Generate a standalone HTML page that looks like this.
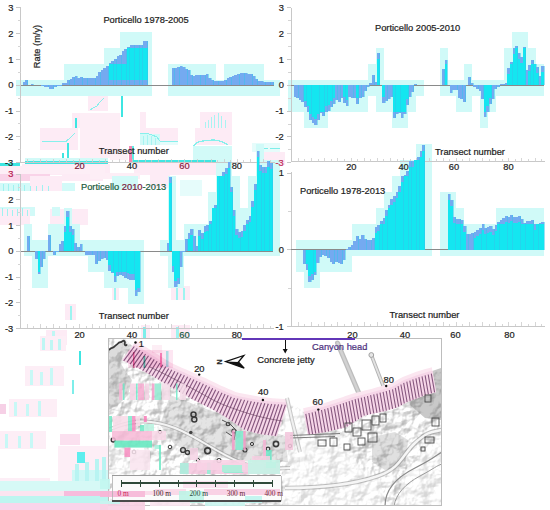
<!DOCTYPE html>
<html><head><meta charset="utf-8"><style>
html,body{margin:0;padding:0;background:#fff;}
body{width:550px;height:510px;overflow:hidden;position:relative;}
svg{position:absolute;left:0;top:0;}
.t{font-family:"Liberation Sans",sans-serif;font-size:9.3px;fill:#1e1e1e;stroke:#1e1e1e;stroke-width:0.22px;}
.s{font-family:"Liberation Serif",serif;font-size:7.4px;fill:#3a2020;}
</style></head><body>
<svg width="550" height="510" viewBox="0 0 550 510" shape-rendering="crispEdges">
<rect x="88" y="95" width="20" height="16" fill="#fdebf5"/>
<rect x="121" y="95" width="2" height="22" fill="#3ee6e2"/>
<rect x="72" y="113" width="8" height="15" fill="#fdebf5"/>
<rect x="40" y="128" width="38" height="22" fill="#fdebf5"/>
<rect x="75" y="118" width="1.5" height="10" fill="#3ee6e2"/>
<rect x="67" y="143" width="1.5" height="19" fill="#3ee6e2"/>
<rect x="62" y="153" width="1.5" height="9" fill="#3ee6e2"/>
<rect x="25" y="158" width="83" height="3" fill="#d2faf8"/>
<rect x="25" y="161" width="83" height="2.6" fill="#3ee6e2"/>
<rect x="0" y="163" width="20" height="3" fill="#3ee6e2"/>
<rect x="22" y="164" width="88" height="11" fill="#fdebf5"/>
<rect x="110" y="150" width="18" height="10" fill="#fdeef6"/>
<rect x="80" y="113" width="40" height="45" fill="#fdeef6"/>
<rect x="140" y="112" width="6" height="16" fill="#fdebf5"/>
<rect x="200" y="112" width="32" height="16" fill="#fdebf5"/>
<rect x="140" y="128" width="38" height="17" fill="#fdebf5"/>
<rect x="195" y="128" width="37" height="17" fill="#fdebf5"/>
<rect x="140" y="134" width="20" height="11" fill="#d2faf8"/>
<rect x="160" y="141" width="18" height="4" fill="#e6fcfb"/>
<rect x="193" y="146" width="39" height="15" fill="#d2faf8"/>
<rect x="132" y="160" width="100" height="3" fill="#3ee6e2"/>
<rect x="134" y="163" width="96" height="12" fill="#fdebf5"/>
<rect x="128.5" y="146" width="3" height="16" fill="#f28ab4"/>
<rect x="132" y="146" width="2" height="14" fill="#5ef0e8"/>
<rect x="252" y="143" width="28" height="9" fill="#e6fcfb"/>
<rect x="262" y="147.5" width="6" height="1.5" fill="#7eeeea"/>
<rect x="270" y="147.5" width="10" height="1.5" fill="#7eeeea"/>
<rect x="264" y="152" width="21" height="13" fill="#fdebf5"/>
<rect x="0" y="166" width="105" height="8" fill="#fdeef6"/>
<rect x="0" y="174" width="50" height="7" fill="#f9d3e8"/>
<rect x="62" y="174" width="41" height="7" fill="#fdebf5"/>
<rect x="0" y="183" width="60" height="8" fill="#d2faf8"/>
<rect x="60" y="183" width="15" height="8" fill="#d2faf8"/>
<rect x="30" y="176" width="32" height="15" fill="#fdebf5"/>
<rect x="0" y="207" width="35" height="9" fill="#d2faf8"/>
<rect x="0" y="209" width="30" height="16" fill="#fdebf5"/>
<rect x="50" y="209" width="38" height="16" fill="#fdebf5"/>
<rect x="52" y="207" width="8" height="9" fill="#d2faf8"/>
<rect x="90" y="173" width="50" height="6" fill="#fdeef6"/>
<rect x="112" y="176" width="26" height="14" fill="#d2faf8"/>
<rect x="150" y="174" width="20" height="14" fill="#fdebf5"/>
<rect x="180" y="180" width="22" height="16" fill="#e6fcfb"/>
<rect x="65" y="304" width="11" height="16" fill="#fdebf5"/>
<rect x="70" y="306" width="2" height="14" fill="#9ef4f0"/>
<rect x="112" y="286" width="7" height="14" fill="#fdebf5"/>
<rect x="114" y="288" width="2" height="12" fill="#9ef4f0"/>
<rect x="171" y="286" width="19" height="14" fill="#fdebf5"/>
<rect x="176" y="288" width="2" height="12" fill="#9ef4f0"/>
<rect x="183" y="288" width="2" height="12" fill="#9ef4f0"/>
<rect x="46" y="330" width="21" height="15" fill="#fdebf5"/>
<rect x="52" y="331" width="3" height="12" fill="#c0f6f4"/>
<rect x="140.5" y="325" width="9.5" height="20" fill="#fdebf5"/>
<rect x="143" y="327" width="3" height="16" fill="#7eeeea"/>
<rect x="171" y="325" width="19" height="20" fill="#fdebf5"/>
<rect x="176" y="327" width="3" height="16" fill="#9ef4f0"/>
<rect x="40" y="336" width="26" height="15" fill="#fdeef6"/>
<rect x="42" y="338" width="3" height="12" fill="#bff6f4"/>
<rect x="50" y="340" width="3" height="10" fill="#bff6f4"/>
<rect x="58" y="339" width="3" height="11" fill="#bff6f4"/>
<rect x="79" y="351" width="1.6" height="14" fill="#3ee6e2"/>
<rect x="25" y="366" width="39" height="20" fill="#fdeef6"/>
<rect x="30" y="370" width="3" height="15" fill="#c8f8f6"/>
<rect x="40" y="372" width="3" height="13" fill="#c8f8f6"/>
<rect x="50" y="368" width="3" height="17" fill="#c8f8f6"/>
<rect x="72" y="380" width="1.5" height="14" fill="#7eeeea"/>
<rect x="9" y="399" width="48" height="18" fill="#fdeef6"/>
<rect x="14" y="402" width="3" height="14" fill="#c8f8f6"/>
<rect x="26" y="404" width="3" height="12" fill="#c8f8f6"/>
<rect x="38" y="401" width="3" height="15" fill="#c8f8f6"/>
<rect x="0" y="404" width="6" height="10" fill="#f6d0e6"/>
<rect x="0" y="431" width="46" height="18" fill="#fdeef6"/>
<rect x="5" y="434" width="3" height="14" fill="#c8f8f6"/>
<rect x="18" y="436" width="3" height="12" fill="#c8f8f6"/>
<rect x="30" y="433" width="3" height="15" fill="#c8f8f6"/>
<rect x="58" y="446" width="52" height="46" fill="#fdeef6"/>
<rect x="60" y="434" width="20" height="11" fill="#fbe0ef"/>
<rect x="76.7" y="452" width="8" height="11" fill="#5eeeee"/>
<rect x="72" y="470" width="36" height="21" fill="#d0f8f6"/>
<rect x="75" y="464" width="4" height="27" fill="#b8f4f2"/>
<rect x="85" y="462" width="4" height="29" fill="#b8f4f2"/>
<rect x="95" y="459" width="4" height="32" fill="#b8f4f2"/>
<rect x="102" y="457" width="4" height="34" fill="#b8f4f2"/>
<rect x="0" y="478" width="50" height="3" fill="#fdeef6"/>
<rect x="0" y="481" width="108" height="10" fill="#d6f9f6"/>
<rect x="0" y="491" width="64" height="5" fill="#fbe4f0"/>
<rect x="64" y="491" width="44" height="5" fill="#f7bcdc"/>
<rect x="0" y="496" width="108" height="7" fill="#bdf5f0"/>
<rect x="0" y="503" width="108" height="7" fill="#f9d4ea"/>
<path d="M90,110 L93,108 L97,106 L100,102 L104,98" stroke="#86f0ec" stroke-width="1.0" fill="none"/>
<path d="M42,141.5 L66,141.5 L70,138 L73,135 L75,133" stroke="#86f0ec" stroke-width="1.0" fill="none"/>
<path d="M140,134 L146,133 L152,135 L157,137 L160,141 L178,141.5" stroke="#86f0ec" stroke-width="1.0" fill="none"/>
<path d="M193,146 L198,142 L206,140.5 L214,140 L222,141.5 L228,145" stroke="#86f0ec" stroke-width="1.3" fill="none"/>
<path d="M205,128 L205,122 M208,128 L208,120 M211,128 L211,117 M214,128 L214,115 M218,128 L218,113 M221,128 L221,116 M225,128 L225,120" stroke="#a8f4f2" stroke-width="1.0" fill="none"/>
<path d="M143,145 L143,136 M147,145 L147,135 M151,145 L151,136 M155,145 L155,138" stroke="#a8f4f2" stroke-width="1.0" fill="none"/>
<path d="M3,191 L3,184 M8,191 L8,184 M13,191 L13,185 M18,191 L18,184 M24,191 L24,185 M30,191 L30,186 M36,191 L36,186 M42,191 L42,185 M48,191 L48,186" stroke="#a0f2f0" stroke-width="1.0" fill="none"/>
<path d="M2,216 L2,208 M7,216 L7,209 M12,216 L12,210 M17,216 L17,209 M22,216 L22,208 M27,216 L27,210" stroke="#a0f2f0" stroke-width="1.0" fill="none"/>
<rect x="16" y="80" width="8" height="16" fill="#d0faf8"/>
<rect x="24" y="80" width="8" height="16" fill="#d0faf8"/>
<rect x="32" y="80" width="8" height="16" fill="#d0faf8"/>
<rect x="40" y="80" width="8" height="16" fill="#d0faf8"/>
<rect x="48" y="80" width="8" height="16" fill="#d0faf8"/>
<rect x="56" y="80" width="8" height="16" fill="#d0faf8"/>
<rect x="64" y="64" width="8" height="16" fill="#d0faf8"/>
<rect x="64" y="80" width="8" height="16" fill="#d0faf8"/>
<rect x="72" y="64" width="8" height="16" fill="#d0faf8"/>
<rect x="72" y="80" width="8" height="16" fill="#d0faf8"/>
<rect x="80" y="64" width="8" height="16" fill="#d0faf8"/>
<rect x="80" y="80" width="8" height="16" fill="#d0faf8"/>
<rect x="88" y="64" width="8" height="16" fill="#d0faf8"/>
<rect x="88" y="80" width="8" height="16" fill="#d0faf8"/>
<rect x="96" y="64" width="8" height="16" fill="#d0faf8"/>
<rect x="96" y="80" width="8" height="16" fill="#d0faf8"/>
<rect x="104" y="48" width="8" height="16" fill="#d0faf8"/>
<rect x="104" y="64" width="8" height="16" fill="#d0faf8"/>
<rect x="104" y="80" width="8" height="16" fill="#d0faf8"/>
<rect x="112" y="48" width="8" height="16" fill="#d0faf8"/>
<rect x="112" y="64" width="8" height="16" fill="#d0faf8"/>
<rect x="112" y="80" width="8" height="16" fill="#d0faf8"/>
<rect x="120" y="32" width="8" height="16" fill="#d0faf8"/>
<rect x="120" y="48" width="8" height="16" fill="#d0faf8"/>
<rect x="120" y="64" width="8" height="16" fill="#d0faf8"/>
<rect x="120" y="80" width="8" height="16" fill="#d0faf8"/>
<rect x="128" y="32" width="8" height="16" fill="#d0faf8"/>
<rect x="128" y="48" width="8" height="16" fill="#d0faf8"/>
<rect x="128" y="64" width="8" height="16" fill="#d0faf8"/>
<rect x="128" y="80" width="8" height="16" fill="#d0faf8"/>
<rect x="136" y="32" width="8" height="16" fill="#d0faf8"/>
<rect x="136" y="48" width="8" height="16" fill="#d0faf8"/>
<rect x="136" y="64" width="8" height="16" fill="#d0faf8"/>
<rect x="136" y="80" width="8" height="16" fill="#d0faf8"/>
<rect x="144" y="32" width="8" height="16" fill="#d0faf8"/>
<rect x="144" y="48" width="8" height="16" fill="#d0faf8"/>
<rect x="144" y="64" width="8" height="16" fill="#d0faf8"/>
<rect x="144" y="80" width="8" height="16" fill="#d0faf8"/>
<rect x="168" y="64" width="8" height="16" fill="#d0faf8"/>
<rect x="168" y="80" width="8" height="16" fill="#d0faf8"/>
<rect x="176" y="64" width="8" height="16" fill="#d0faf8"/>
<rect x="176" y="80" width="8" height="16" fill="#d0faf8"/>
<rect x="184" y="64" width="8" height="16" fill="#d0faf8"/>
<rect x="184" y="80" width="8" height="16" fill="#d0faf8"/>
<rect x="192" y="64" width="8" height="16" fill="#d0faf8"/>
<rect x="192" y="80" width="8" height="16" fill="#d0faf8"/>
<rect x="200" y="64" width="8" height="16" fill="#d0faf8"/>
<rect x="200" y="80" width="8" height="16" fill="#d0faf8"/>
<rect x="208" y="64" width="8" height="16" fill="#d0faf8"/>
<rect x="208" y="80" width="8" height="16" fill="#d0faf8"/>
<rect x="216" y="80" width="8" height="16" fill="#d0faf8"/>
<rect x="224" y="64" width="8" height="16" fill="#d0faf8"/>
<rect x="224" y="80" width="8" height="16" fill="#d0faf8"/>
<rect x="232" y="64" width="8" height="16" fill="#d0faf8"/>
<rect x="232" y="80" width="8" height="16" fill="#d0faf8"/>
<rect x="240" y="64" width="8" height="16" fill="#d0faf8"/>
<rect x="240" y="80" width="8" height="16" fill="#d0faf8"/>
<rect x="248" y="64" width="8" height="16" fill="#d0faf8"/>
<rect x="248" y="80" width="8" height="16" fill="#d0faf8"/>
<rect x="256" y="64" width="8" height="16" fill="#d0faf8"/>
<rect x="256" y="80" width="8" height="16" fill="#d0faf8"/>
<rect x="264" y="80" width="8" height="16" fill="#d0faf8"/>
<rect x="272" y="80" width="8" height="16" fill="#d0faf8"/>
<rect x="288" y="80" width="8" height="16" fill="#d0faf8"/>
<rect x="288" y="96" width="8" height="16" fill="#d0faf8"/>
<rect x="296" y="80" width="8" height="16" fill="#d0faf8"/>
<rect x="296" y="96" width="8" height="16" fill="#d0faf8"/>
<rect x="304" y="80" width="8" height="16" fill="#d0faf8"/>
<rect x="304" y="96" width="8" height="16" fill="#d0faf8"/>
<rect x="304" y="112" width="8" height="16" fill="#d0faf8"/>
<rect x="312" y="80" width="8" height="16" fill="#d0faf8"/>
<rect x="312" y="96" width="8" height="16" fill="#d0faf8"/>
<rect x="312" y="112" width="8" height="16" fill="#d0faf8"/>
<rect x="320" y="80" width="8" height="16" fill="#d0faf8"/>
<rect x="320" y="96" width="8" height="16" fill="#d0faf8"/>
<rect x="320" y="112" width="8" height="16" fill="#d0faf8"/>
<rect x="328" y="80" width="8" height="16" fill="#d0faf8"/>
<rect x="328" y="96" width="8" height="16" fill="#d0faf8"/>
<rect x="336" y="80" width="8" height="16" fill="#d0faf8"/>
<rect x="336" y="96" width="8" height="16" fill="#d0faf8"/>
<rect x="344" y="80" width="8" height="16" fill="#d0faf8"/>
<rect x="344" y="96" width="8" height="16" fill="#d0faf8"/>
<rect x="352" y="80" width="8" height="16" fill="#d0faf8"/>
<rect x="352" y="96" width="8" height="16" fill="#d0faf8"/>
<rect x="360" y="80" width="8" height="16" fill="#d0faf8"/>
<rect x="360" y="96" width="8" height="16" fill="#d0faf8"/>
<rect x="368" y="64" width="8" height="16" fill="#d0faf8"/>
<rect x="368" y="80" width="8" height="16" fill="#d0faf8"/>
<rect x="376" y="48" width="8" height="16" fill="#d0faf8"/>
<rect x="376" y="64" width="8" height="16" fill="#d0faf8"/>
<rect x="376" y="80" width="8" height="16" fill="#d0faf8"/>
<rect x="376" y="96" width="8" height="16" fill="#d0faf8"/>
<rect x="384" y="80" width="8" height="16" fill="#d0faf8"/>
<rect x="384" y="96" width="8" height="16" fill="#d0faf8"/>
<rect x="392" y="80" width="8" height="16" fill="#d0faf8"/>
<rect x="392" y="96" width="8" height="16" fill="#d0faf8"/>
<rect x="392" y="112" width="8" height="16" fill="#d0faf8"/>
<rect x="400" y="80" width="8" height="16" fill="#d0faf8"/>
<rect x="400" y="96" width="8" height="16" fill="#d0faf8"/>
<rect x="400" y="112" width="8" height="16" fill="#d0faf8"/>
<rect x="408" y="80" width="8" height="16" fill="#d0faf8"/>
<rect x="408" y="96" width="8" height="16" fill="#d0faf8"/>
<rect x="416" y="80" width="8" height="16" fill="#d0faf8"/>
<rect x="440" y="48" width="8" height="16" fill="#d0faf8"/>
<rect x="440" y="64" width="8" height="16" fill="#d0faf8"/>
<rect x="440" y="80" width="8" height="16" fill="#d0faf8"/>
<rect x="448" y="80" width="8" height="16" fill="#d0faf8"/>
<rect x="456" y="80" width="8" height="16" fill="#d0faf8"/>
<rect x="456" y="96" width="8" height="16" fill="#d0faf8"/>
<rect x="464" y="64" width="8" height="16" fill="#d0faf8"/>
<rect x="464" y="80" width="8" height="16" fill="#d0faf8"/>
<rect x="464" y="96" width="8" height="16" fill="#d0faf8"/>
<rect x="472" y="80" width="8" height="16" fill="#d0faf8"/>
<rect x="480" y="80" width="8" height="16" fill="#d0faf8"/>
<rect x="480" y="96" width="8" height="16" fill="#d0faf8"/>
<rect x="480" y="112" width="8" height="16" fill="#d0faf8"/>
<rect x="488" y="80" width="8" height="16" fill="#d0faf8"/>
<rect x="488" y="96" width="8" height="16" fill="#d0faf8"/>
<rect x="496" y="80" width="8" height="16" fill="#d0faf8"/>
<rect x="504" y="48" width="8" height="16" fill="#d0faf8"/>
<rect x="504" y="64" width="8" height="16" fill="#d0faf8"/>
<rect x="504" y="80" width="8" height="16" fill="#d0faf8"/>
<rect x="512" y="32" width="8" height="16" fill="#d0faf8"/>
<rect x="512" y="48" width="8" height="16" fill="#d0faf8"/>
<rect x="512" y="64" width="8" height="16" fill="#d0faf8"/>
<rect x="512" y="80" width="8" height="16" fill="#d0faf8"/>
<rect x="520" y="32" width="8" height="16" fill="#d0faf8"/>
<rect x="520" y="48" width="8" height="16" fill="#d0faf8"/>
<rect x="520" y="64" width="8" height="16" fill="#d0faf8"/>
<rect x="520" y="80" width="8" height="16" fill="#d0faf8"/>
<rect x="528" y="48" width="8" height="16" fill="#d0faf8"/>
<rect x="528" y="64" width="8" height="16" fill="#d0faf8"/>
<rect x="528" y="80" width="8" height="16" fill="#d0faf8"/>
<rect x="536" y="64" width="8" height="16" fill="#d0faf8"/>
<rect x="536" y="80" width="8" height="16" fill="#d0faf8"/>
<rect x="24" y="224" width="8" height="16" fill="#d0faf8"/>
<rect x="24" y="240" width="8" height="16" fill="#d0faf8"/>
<rect x="32" y="240" width="8" height="16" fill="#d0faf8"/>
<rect x="32" y="256" width="8" height="16" fill="#d0faf8"/>
<rect x="32" y="272" width="8" height="16" fill="#d0faf8"/>
<rect x="40" y="240" width="8" height="16" fill="#d0faf8"/>
<rect x="40" y="256" width="8" height="16" fill="#d0faf8"/>
<rect x="40" y="272" width="8" height="16" fill="#d0faf8"/>
<rect x="48" y="224" width="8" height="16" fill="#d0faf8"/>
<rect x="48" y="240" width="8" height="16" fill="#d0faf8"/>
<rect x="56" y="224" width="8" height="16" fill="#d0faf8"/>
<rect x="56" y="240" width="8" height="16" fill="#d0faf8"/>
<rect x="64" y="208" width="8" height="16" fill="#d0faf8"/>
<rect x="64" y="224" width="8" height="16" fill="#d0faf8"/>
<rect x="64" y="240" width="8" height="16" fill="#d0faf8"/>
<rect x="72" y="224" width="8" height="16" fill="#d0faf8"/>
<rect x="72" y="240" width="8" height="16" fill="#d0faf8"/>
<rect x="80" y="240" width="8" height="16" fill="#d0faf8"/>
<rect x="88" y="240" width="8" height="16" fill="#d0faf8"/>
<rect x="88" y="256" width="8" height="16" fill="#d0faf8"/>
<rect x="96" y="240" width="8" height="16" fill="#d0faf8"/>
<rect x="96" y="256" width="8" height="16" fill="#d0faf8"/>
<rect x="104" y="240" width="8" height="16" fill="#d0faf8"/>
<rect x="104" y="256" width="8" height="16" fill="#d0faf8"/>
<rect x="104" y="272" width="8" height="16" fill="#d0faf8"/>
<rect x="112" y="240" width="8" height="16" fill="#d0faf8"/>
<rect x="112" y="256" width="8" height="16" fill="#d0faf8"/>
<rect x="112" y="272" width="8" height="16" fill="#d0faf8"/>
<rect x="120" y="240" width="8" height="16" fill="#d0faf8"/>
<rect x="120" y="256" width="8" height="16" fill="#d0faf8"/>
<rect x="120" y="272" width="8" height="16" fill="#d0faf8"/>
<rect x="128" y="240" width="8" height="16" fill="#d0faf8"/>
<rect x="128" y="256" width="8" height="16" fill="#d0faf8"/>
<rect x="128" y="272" width="8" height="16" fill="#d0faf8"/>
<rect x="128" y="288" width="8" height="16" fill="#d0faf8"/>
<rect x="136" y="240" width="8" height="16" fill="#d0faf8"/>
<rect x="136" y="256" width="8" height="16" fill="#d0faf8"/>
<rect x="136" y="272" width="8" height="16" fill="#d0faf8"/>
<rect x="136" y="288" width="8" height="16" fill="#d0faf8"/>
<rect x="160" y="240" width="8" height="16" fill="#d0faf8"/>
<rect x="168" y="176" width="8" height="16" fill="#d0faf8"/>
<rect x="168" y="192" width="8" height="16" fill="#d0faf8"/>
<rect x="168" y="208" width="8" height="16" fill="#d0faf8"/>
<rect x="168" y="224" width="8" height="16" fill="#d0faf8"/>
<rect x="168" y="240" width="8" height="16" fill="#d0faf8"/>
<rect x="168" y="256" width="8" height="16" fill="#d0faf8"/>
<rect x="168" y="272" width="8" height="16" fill="#d0faf8"/>
<rect x="176" y="240" width="8" height="16" fill="#d0faf8"/>
<rect x="176" y="256" width="8" height="16" fill="#d0faf8"/>
<rect x="176" y="272" width="8" height="16" fill="#d0faf8"/>
<rect x="184" y="224" width="8" height="16" fill="#d0faf8"/>
<rect x="184" y="240" width="8" height="16" fill="#d0faf8"/>
<rect x="192" y="224" width="8" height="16" fill="#d0faf8"/>
<rect x="192" y="240" width="8" height="16" fill="#d0faf8"/>
<rect x="200" y="224" width="8" height="16" fill="#d0faf8"/>
<rect x="200" y="240" width="8" height="16" fill="#d0faf8"/>
<rect x="208" y="192" width="8" height="16" fill="#d0faf8"/>
<rect x="208" y="208" width="8" height="16" fill="#d0faf8"/>
<rect x="208" y="224" width="8" height="16" fill="#d0faf8"/>
<rect x="208" y="240" width="8" height="16" fill="#d0faf8"/>
<rect x="216" y="160" width="8" height="16" fill="#d0faf8"/>
<rect x="216" y="176" width="8" height="16" fill="#d0faf8"/>
<rect x="216" y="192" width="8" height="16" fill="#d0faf8"/>
<rect x="216" y="208" width="8" height="16" fill="#d0faf8"/>
<rect x="216" y="224" width="8" height="16" fill="#d0faf8"/>
<rect x="216" y="240" width="8" height="16" fill="#d0faf8"/>
<rect x="224" y="160" width="8" height="16" fill="#d0faf8"/>
<rect x="224" y="176" width="8" height="16" fill="#d0faf8"/>
<rect x="224" y="192" width="8" height="16" fill="#d0faf8"/>
<rect x="224" y="208" width="8" height="16" fill="#d0faf8"/>
<rect x="224" y="224" width="8" height="16" fill="#d0faf8"/>
<rect x="224" y="240" width="8" height="16" fill="#d0faf8"/>
<rect x="232" y="176" width="8" height="16" fill="#d0faf8"/>
<rect x="232" y="192" width="8" height="16" fill="#d0faf8"/>
<rect x="232" y="208" width="8" height="16" fill="#d0faf8"/>
<rect x="232" y="224" width="8" height="16" fill="#d0faf8"/>
<rect x="232" y="240" width="8" height="16" fill="#d0faf8"/>
<rect x="240" y="208" width="8" height="16" fill="#d0faf8"/>
<rect x="240" y="224" width="8" height="16" fill="#d0faf8"/>
<rect x="240" y="240" width="8" height="16" fill="#d0faf8"/>
<rect x="248" y="176" width="8" height="16" fill="#d0faf8"/>
<rect x="248" y="192" width="8" height="16" fill="#d0faf8"/>
<rect x="248" y="208" width="8" height="16" fill="#d0faf8"/>
<rect x="248" y="224" width="8" height="16" fill="#d0faf8"/>
<rect x="248" y="240" width="8" height="16" fill="#d0faf8"/>
<rect x="256" y="144" width="8" height="16" fill="#d0faf8"/>
<rect x="256" y="160" width="8" height="16" fill="#d0faf8"/>
<rect x="256" y="176" width="8" height="16" fill="#d0faf8"/>
<rect x="256" y="192" width="8" height="16" fill="#d0faf8"/>
<rect x="256" y="208" width="8" height="16" fill="#d0faf8"/>
<rect x="256" y="224" width="8" height="16" fill="#d0faf8"/>
<rect x="256" y="240" width="8" height="16" fill="#d0faf8"/>
<rect x="264" y="160" width="8" height="16" fill="#d0faf8"/>
<rect x="264" y="176" width="8" height="16" fill="#d0faf8"/>
<rect x="264" y="192" width="8" height="16" fill="#d0faf8"/>
<rect x="264" y="208" width="8" height="16" fill="#d0faf8"/>
<rect x="264" y="224" width="8" height="16" fill="#d0faf8"/>
<rect x="264" y="240" width="8" height="16" fill="#d0faf8"/>
<rect x="272" y="160" width="8" height="16" fill="#d0faf8"/>
<rect x="272" y="176" width="8" height="16" fill="#d0faf8"/>
<rect x="272" y="192" width="8" height="16" fill="#d0faf8"/>
<rect x="272" y="208" width="8" height="16" fill="#d0faf8"/>
<rect x="272" y="224" width="8" height="16" fill="#d0faf8"/>
<rect x="272" y="240" width="8" height="16" fill="#d0faf8"/>
<rect x="296" y="240" width="8" height="16" fill="#d0faf8"/>
<rect x="296" y="256" width="8" height="16" fill="#d0faf8"/>
<rect x="304" y="240" width="8" height="16" fill="#d0faf8"/>
<rect x="304" y="256" width="8" height="16" fill="#d0faf8"/>
<rect x="304" y="272" width="8" height="16" fill="#d0faf8"/>
<rect x="312" y="240" width="8" height="16" fill="#d0faf8"/>
<rect x="312" y="256" width="8" height="16" fill="#d0faf8"/>
<rect x="312" y="272" width="8" height="16" fill="#d0faf8"/>
<rect x="320" y="240" width="8" height="16" fill="#d0faf8"/>
<rect x="320" y="256" width="8" height="16" fill="#d0faf8"/>
<rect x="328" y="240" width="8" height="16" fill="#d0faf8"/>
<rect x="328" y="256" width="8" height="16" fill="#d0faf8"/>
<rect x="336" y="240" width="8" height="16" fill="#d0faf8"/>
<rect x="336" y="256" width="8" height="16" fill="#d0faf8"/>
<rect x="344" y="240" width="8" height="16" fill="#d0faf8"/>
<rect x="344" y="256" width="8" height="16" fill="#d0faf8"/>
<rect x="352" y="224" width="8" height="16" fill="#d0faf8"/>
<rect x="352" y="240" width="8" height="16" fill="#d0faf8"/>
<rect x="360" y="224" width="8" height="16" fill="#d0faf8"/>
<rect x="360" y="240" width="8" height="16" fill="#d0faf8"/>
<rect x="368" y="224" width="8" height="16" fill="#d0faf8"/>
<rect x="368" y="240" width="8" height="16" fill="#d0faf8"/>
<rect x="376" y="208" width="8" height="16" fill="#d0faf8"/>
<rect x="376" y="224" width="8" height="16" fill="#d0faf8"/>
<rect x="376" y="240" width="8" height="16" fill="#d0faf8"/>
<rect x="384" y="192" width="8" height="16" fill="#d0faf8"/>
<rect x="384" y="208" width="8" height="16" fill="#d0faf8"/>
<rect x="384" y="224" width="8" height="16" fill="#d0faf8"/>
<rect x="384" y="240" width="8" height="16" fill="#d0faf8"/>
<rect x="392" y="176" width="8" height="16" fill="#d0faf8"/>
<rect x="392" y="192" width="8" height="16" fill="#d0faf8"/>
<rect x="392" y="208" width="8" height="16" fill="#d0faf8"/>
<rect x="392" y="224" width="8" height="16" fill="#d0faf8"/>
<rect x="392" y="240" width="8" height="16" fill="#d0faf8"/>
<rect x="400" y="160" width="8" height="16" fill="#d0faf8"/>
<rect x="400" y="176" width="8" height="16" fill="#d0faf8"/>
<rect x="400" y="192" width="8" height="16" fill="#d0faf8"/>
<rect x="400" y="208" width="8" height="16" fill="#d0faf8"/>
<rect x="400" y="224" width="8" height="16" fill="#d0faf8"/>
<rect x="400" y="240" width="8" height="16" fill="#d0faf8"/>
<rect x="408" y="160" width="8" height="16" fill="#d0faf8"/>
<rect x="408" y="176" width="8" height="16" fill="#d0faf8"/>
<rect x="408" y="192" width="8" height="16" fill="#d0faf8"/>
<rect x="408" y="208" width="8" height="16" fill="#d0faf8"/>
<rect x="408" y="224" width="8" height="16" fill="#d0faf8"/>
<rect x="408" y="240" width="8" height="16" fill="#d0faf8"/>
<rect x="416" y="144" width="8" height="16" fill="#d0faf8"/>
<rect x="416" y="160" width="8" height="16" fill="#d0faf8"/>
<rect x="416" y="176" width="8" height="16" fill="#d0faf8"/>
<rect x="416" y="192" width="8" height="16" fill="#d0faf8"/>
<rect x="416" y="208" width="8" height="16" fill="#d0faf8"/>
<rect x="416" y="224" width="8" height="16" fill="#d0faf8"/>
<rect x="416" y="240" width="8" height="16" fill="#d0faf8"/>
<rect x="424" y="144" width="8" height="16" fill="#d0faf8"/>
<rect x="424" y="160" width="8" height="16" fill="#d0faf8"/>
<rect x="424" y="176" width="8" height="16" fill="#d0faf8"/>
<rect x="424" y="192" width="8" height="16" fill="#d0faf8"/>
<rect x="424" y="208" width="8" height="16" fill="#d0faf8"/>
<rect x="424" y="224" width="8" height="16" fill="#d0faf8"/>
<rect x="424" y="240" width="8" height="16" fill="#d0faf8"/>
<rect x="440" y="192" width="8" height="16" fill="#d0faf8"/>
<rect x="440" y="208" width="8" height="16" fill="#d0faf8"/>
<rect x="440" y="224" width="8" height="16" fill="#d0faf8"/>
<rect x="440" y="240" width="8" height="16" fill="#d0faf8"/>
<rect x="448" y="192" width="8" height="16" fill="#d0faf8"/>
<rect x="448" y="208" width="8" height="16" fill="#d0faf8"/>
<rect x="448" y="224" width="8" height="16" fill="#d0faf8"/>
<rect x="448" y="240" width="8" height="16" fill="#d0faf8"/>
<rect x="456" y="208" width="8" height="16" fill="#d0faf8"/>
<rect x="456" y="224" width="8" height="16" fill="#d0faf8"/>
<rect x="456" y="240" width="8" height="16" fill="#d0faf8"/>
<rect x="464" y="224" width="8" height="16" fill="#d0faf8"/>
<rect x="464" y="240" width="8" height="16" fill="#d0faf8"/>
<rect x="472" y="224" width="8" height="16" fill="#d0faf8"/>
<rect x="472" y="240" width="8" height="16" fill="#d0faf8"/>
<rect x="480" y="224" width="8" height="16" fill="#d0faf8"/>
<rect x="480" y="240" width="8" height="16" fill="#d0faf8"/>
<rect x="488" y="224" width="8" height="16" fill="#d0faf8"/>
<rect x="488" y="240" width="8" height="16" fill="#d0faf8"/>
<rect x="496" y="208" width="8" height="16" fill="#d0faf8"/>
<rect x="496" y="224" width="8" height="16" fill="#d0faf8"/>
<rect x="496" y="240" width="8" height="16" fill="#d0faf8"/>
<rect x="504" y="208" width="8" height="16" fill="#d0faf8"/>
<rect x="504" y="224" width="8" height="16" fill="#d0faf8"/>
<rect x="504" y="240" width="8" height="16" fill="#d0faf8"/>
<rect x="512" y="208" width="8" height="16" fill="#d0faf8"/>
<rect x="512" y="224" width="8" height="16" fill="#d0faf8"/>
<rect x="512" y="240" width="8" height="16" fill="#d0faf8"/>
<rect x="520" y="208" width="8" height="16" fill="#d0faf8"/>
<rect x="520" y="224" width="8" height="16" fill="#d0faf8"/>
<rect x="520" y="240" width="8" height="16" fill="#d0faf8"/>
<rect x="528" y="208" width="8" height="16" fill="#d0faf8"/>
<rect x="528" y="224" width="8" height="16" fill="#d0faf8"/>
<rect x="528" y="240" width="8" height="16" fill="#d0faf8"/>
<rect x="536" y="208" width="8" height="16" fill="#d0faf8"/>
<rect x="536" y="224" width="8" height="16" fill="#d0faf8"/>
<rect x="536" y="240" width="8" height="16" fill="#d0faf8"/>
<line x1="20.8" y1="7.8" x2="20.8" y2="162.6" stroke="#c8c8c8" stroke-width="1"/>
<line x1="20.8" y1="85.2" x2="273.5" y2="85.2" stroke="#8a8a8a" stroke-width="1"/>
<line x1="16.3" y1="7.8" x2="20.8" y2="7.8" stroke="#c8c8c8" stroke-width="1"/>
<text x="13.3" y="10.9" text-anchor="end" class="t">3</text>
<line x1="16.3" y1="33.6" x2="20.8" y2="33.6" stroke="#c8c8c8" stroke-width="1"/>
<text x="13.3" y="36.7" text-anchor="end" class="t">2</text>
<line x1="16.3" y1="59.4" x2="20.8" y2="59.4" stroke="#c8c8c8" stroke-width="1"/>
<text x="13.3" y="62.5" text-anchor="end" class="t">1</text>
<line x1="16.3" y1="85.2" x2="20.8" y2="85.2" stroke="#c8c8c8" stroke-width="1"/>
<text x="13.3" y="88.3" text-anchor="end" class="t">0</text>
<line x1="16.3" y1="111" x2="20.8" y2="111" stroke="#c8c8c8" stroke-width="1"/>
<text x="13.3" y="114.1" text-anchor="end" class="t">-1</text>
<line x1="16.3" y1="136.8" x2="20.8" y2="136.8" stroke="#c8c8c8" stroke-width="1"/>
<text x="13.3" y="139.9" text-anchor="end" class="t">-2</text>
<line x1="16.3" y1="162.6" x2="20.8" y2="162.6" stroke="#c8c8c8" stroke-width="1"/>
<text x="13.3" y="165.7" text-anchor="end" class="t">-3</text>
<line x1="17.8" y1="20.7" x2="20.8" y2="20.7" stroke="#d4d4d4" stroke-width="1"/>
<line x1="17.8" y1="46.5" x2="20.8" y2="46.5" stroke="#d4d4d4" stroke-width="1"/>
<line x1="17.8" y1="72.3" x2="20.8" y2="72.3" stroke="#d4d4d4" stroke-width="1"/>
<line x1="17.8" y1="98.1" x2="20.8" y2="98.1" stroke="#d4d4d4" stroke-width="1"/>
<line x1="17.8" y1="123.9" x2="20.8" y2="123.9" stroke="#d4d4d4" stroke-width="1"/>
<line x1="17.8" y1="149.7" x2="20.8" y2="149.7" stroke="#d4d4d4" stroke-width="1"/>
<line x1="20.8" y1="162.6" x2="274.5" y2="162.6" stroke="#c8c8c8" stroke-width="1"/>
<line x1="27" y1="162.6" x2="27" y2="158.6" stroke="#cccccc" stroke-width="0.8"/>
<line x1="33.58" y1="162.6" x2="33.58" y2="160.1" stroke="#cccccc" stroke-width="0.8"/>
<line x1="40.15" y1="162.6" x2="40.15" y2="158.6" stroke="#cccccc" stroke-width="0.8"/>
<line x1="46.73" y1="162.6" x2="46.73" y2="160.1" stroke="#cccccc" stroke-width="0.8"/>
<line x1="53.3" y1="162.6" x2="53.3" y2="158.6" stroke="#cccccc" stroke-width="0.8"/>
<line x1="59.88" y1="162.6" x2="59.88" y2="160.1" stroke="#cccccc" stroke-width="0.8"/>
<line x1="66.45" y1="162.6" x2="66.45" y2="158.6" stroke="#cccccc" stroke-width="0.8"/>
<line x1="73.03" y1="162.6" x2="73.03" y2="160.1" stroke="#cccccc" stroke-width="0.8"/>
<line x1="79.6" y1="162.6" x2="79.6" y2="158.6" stroke="#cccccc" stroke-width="0.8"/>
<line x1="86.18" y1="162.6" x2="86.18" y2="160.1" stroke="#cccccc" stroke-width="0.8"/>
<line x1="92.75" y1="162.6" x2="92.75" y2="158.6" stroke="#cccccc" stroke-width="0.8"/>
<line x1="99.33" y1="162.6" x2="99.33" y2="160.1" stroke="#cccccc" stroke-width="0.8"/>
<line x1="105.9" y1="162.6" x2="105.9" y2="158.6" stroke="#cccccc" stroke-width="0.8"/>
<line x1="112.48" y1="162.6" x2="112.48" y2="160.1" stroke="#cccccc" stroke-width="0.8"/>
<line x1="119.05" y1="162.6" x2="119.05" y2="158.6" stroke="#cccccc" stroke-width="0.8"/>
<line x1="125.63" y1="162.6" x2="125.63" y2="160.1" stroke="#cccccc" stroke-width="0.8"/>
<line x1="132.2" y1="162.6" x2="132.2" y2="158.6" stroke="#cccccc" stroke-width="0.8"/>
<line x1="138.78" y1="162.6" x2="138.78" y2="160.1" stroke="#cccccc" stroke-width="0.8"/>
<line x1="145.35" y1="162.6" x2="145.35" y2="158.6" stroke="#cccccc" stroke-width="0.8"/>
<line x1="151.93" y1="162.6" x2="151.93" y2="160.1" stroke="#cccccc" stroke-width="0.8"/>
<line x1="158.5" y1="162.6" x2="158.5" y2="158.6" stroke="#cccccc" stroke-width="0.8"/>
<line x1="165.07" y1="162.6" x2="165.07" y2="160.1" stroke="#cccccc" stroke-width="0.8"/>
<line x1="171.65" y1="162.6" x2="171.65" y2="158.6" stroke="#cccccc" stroke-width="0.8"/>
<line x1="178.22" y1="162.6" x2="178.22" y2="160.1" stroke="#cccccc" stroke-width="0.8"/>
<line x1="184.8" y1="162.6" x2="184.8" y2="158.6" stroke="#cccccc" stroke-width="0.8"/>
<line x1="191.37" y1="162.6" x2="191.37" y2="160.1" stroke="#cccccc" stroke-width="0.8"/>
<line x1="197.95" y1="162.6" x2="197.95" y2="158.6" stroke="#cccccc" stroke-width="0.8"/>
<line x1="204.52" y1="162.6" x2="204.52" y2="160.1" stroke="#cccccc" stroke-width="0.8"/>
<line x1="211.1" y1="162.6" x2="211.1" y2="158.6" stroke="#cccccc" stroke-width="0.8"/>
<line x1="217.67" y1="162.6" x2="217.67" y2="160.1" stroke="#cccccc" stroke-width="0.8"/>
<line x1="224.25" y1="162.6" x2="224.25" y2="158.6" stroke="#cccccc" stroke-width="0.8"/>
<line x1="230.82" y1="162.6" x2="230.82" y2="160.1" stroke="#cccccc" stroke-width="0.8"/>
<line x1="237.4" y1="162.6" x2="237.4" y2="158.6" stroke="#cccccc" stroke-width="0.8"/>
<line x1="243.97" y1="162.6" x2="243.97" y2="160.1" stroke="#cccccc" stroke-width="0.8"/>
<line x1="250.55" y1="162.6" x2="250.55" y2="158.6" stroke="#cccccc" stroke-width="0.8"/>
<line x1="257.12" y1="162.6" x2="257.12" y2="160.1" stroke="#cccccc" stroke-width="0.8"/>
<line x1="263.7" y1="162.6" x2="263.7" y2="158.6" stroke="#cccccc" stroke-width="0.8"/>
<line x1="270.27" y1="162.6" x2="270.27" y2="160.1" stroke="#cccccc" stroke-width="0.8"/>
<text x="79.6" y="169" text-anchor="middle" class="t" style="fill:#7a1a3a;stroke:#7a1a3a">20</text>
<text x="132" y="169" text-anchor="middle" class="t">40</text>
<text x="184.4" y="169" text-anchor="middle" class="t" style="fill:#8a2040;stroke:#8a2040">60</text>
<text x="236.8" y="169" text-anchor="middle" class="t">80</text>
<text x="103.4" y="23.1" class="t">Porticello 1978-2005</text>
<text x="98.8" y="154" class="t">Transect number</text>
<line x1="291.3" y1="7.8" x2="291.3" y2="161.8" stroke="#c8c8c8" stroke-width="1"/>
<line x1="291.3" y1="85.3" x2="544.0" y2="85.3" stroke="#8a8a8a" stroke-width="1"/>
<line x1="286.8" y1="7.9" x2="291.3" y2="7.9" stroke="#c8c8c8" stroke-width="1"/>
<text x="283.8" y="11" text-anchor="end" class="t">3</text>
<line x1="286.8" y1="33.7" x2="291.3" y2="33.7" stroke="#c8c8c8" stroke-width="1"/>
<text x="283.8" y="36.8" text-anchor="end" class="t">2</text>
<line x1="286.8" y1="59.5" x2="291.3" y2="59.5" stroke="#c8c8c8" stroke-width="1"/>
<text x="283.8" y="62.6" text-anchor="end" class="t">1</text>
<line x1="286.8" y1="85.3" x2="291.3" y2="85.3" stroke="#c8c8c8" stroke-width="1"/>
<text x="283.8" y="88.4" text-anchor="end" class="t">0</text>
<line x1="286.8" y1="111.1" x2="291.3" y2="111.1" stroke="#c8c8c8" stroke-width="1"/>
<text x="283.8" y="114.2" text-anchor="end" class="t">-1</text>
<line x1="286.8" y1="136.9" x2="291.3" y2="136.9" stroke="#c8c8c8" stroke-width="1"/>
<text x="283.8" y="140" text-anchor="end" class="t">-2</text>
<line x1="286.8" y1="162.7" x2="291.3" y2="162.7" stroke="#c8c8c8" stroke-width="1"/>
<text x="283.8" y="165.8" text-anchor="end" class="t" style="fill:#c02a5a;stroke:#c02a5a">-3</text>
<line x1="288.3" y1="20.8" x2="291.3" y2="20.8" stroke="#d4d4d4" stroke-width="1"/>
<line x1="288.3" y1="46.6" x2="291.3" y2="46.6" stroke="#d4d4d4" stroke-width="1"/>
<line x1="288.3" y1="72.4" x2="291.3" y2="72.4" stroke="#d4d4d4" stroke-width="1"/>
<line x1="288.3" y1="98.2" x2="291.3" y2="98.2" stroke="#d4d4d4" stroke-width="1"/>
<line x1="288.3" y1="124" x2="291.3" y2="124" stroke="#d4d4d4" stroke-width="1"/>
<line x1="288.3" y1="149.8" x2="291.3" y2="149.8" stroke="#d4d4d4" stroke-width="1"/>
<line x1="291.3" y1="161.8" x2="545" y2="161.8" stroke="#c8c8c8" stroke-width="1"/>
<line x1="298.4" y1="161.8" x2="298.4" y2="157.8" stroke="#cccccc" stroke-width="0.8"/>
<line x1="304.97" y1="161.8" x2="304.97" y2="159.3" stroke="#cccccc" stroke-width="0.8"/>
<line x1="311.55" y1="161.8" x2="311.55" y2="157.8" stroke="#cccccc" stroke-width="0.8"/>
<line x1="318.12" y1="161.8" x2="318.12" y2="159.3" stroke="#cccccc" stroke-width="0.8"/>
<line x1="324.7" y1="161.8" x2="324.7" y2="157.8" stroke="#cccccc" stroke-width="0.8"/>
<line x1="331.27" y1="161.8" x2="331.27" y2="159.3" stroke="#cccccc" stroke-width="0.8"/>
<line x1="337.85" y1="161.8" x2="337.85" y2="157.8" stroke="#cccccc" stroke-width="0.8"/>
<line x1="344.42" y1="161.8" x2="344.42" y2="159.3" stroke="#cccccc" stroke-width="0.8"/>
<line x1="351" y1="161.8" x2="351" y2="157.8" stroke="#cccccc" stroke-width="0.8"/>
<line x1="357.57" y1="161.8" x2="357.57" y2="159.3" stroke="#cccccc" stroke-width="0.8"/>
<line x1="364.15" y1="161.8" x2="364.15" y2="157.8" stroke="#cccccc" stroke-width="0.8"/>
<line x1="370.72" y1="161.8" x2="370.72" y2="159.3" stroke="#cccccc" stroke-width="0.8"/>
<line x1="377.3" y1="161.8" x2="377.3" y2="157.8" stroke="#cccccc" stroke-width="0.8"/>
<line x1="383.87" y1="161.8" x2="383.87" y2="159.3" stroke="#cccccc" stroke-width="0.8"/>
<line x1="390.45" y1="161.8" x2="390.45" y2="157.8" stroke="#cccccc" stroke-width="0.8"/>
<line x1="397.02" y1="161.8" x2="397.02" y2="159.3" stroke="#cccccc" stroke-width="0.8"/>
<line x1="403.6" y1="161.8" x2="403.6" y2="157.8" stroke="#cccccc" stroke-width="0.8"/>
<line x1="410.17" y1="161.8" x2="410.17" y2="159.3" stroke="#cccccc" stroke-width="0.8"/>
<line x1="416.75" y1="161.8" x2="416.75" y2="157.8" stroke="#cccccc" stroke-width="0.8"/>
<line x1="423.32" y1="161.8" x2="423.32" y2="159.3" stroke="#cccccc" stroke-width="0.8"/>
<line x1="429.9" y1="161.8" x2="429.9" y2="157.8" stroke="#cccccc" stroke-width="0.8"/>
<line x1="436.47" y1="161.8" x2="436.47" y2="159.3" stroke="#cccccc" stroke-width="0.8"/>
<line x1="443.05" y1="161.8" x2="443.05" y2="157.8" stroke="#cccccc" stroke-width="0.8"/>
<line x1="449.62" y1="161.8" x2="449.62" y2="159.3" stroke="#cccccc" stroke-width="0.8"/>
<line x1="456.2" y1="161.8" x2="456.2" y2="157.8" stroke="#cccccc" stroke-width="0.8"/>
<line x1="462.77" y1="161.8" x2="462.77" y2="159.3" stroke="#cccccc" stroke-width="0.8"/>
<line x1="469.35" y1="161.8" x2="469.35" y2="157.8" stroke="#cccccc" stroke-width="0.8"/>
<line x1="475.92" y1="161.8" x2="475.92" y2="159.3" stroke="#cccccc" stroke-width="0.8"/>
<line x1="482.5" y1="161.8" x2="482.5" y2="157.8" stroke="#cccccc" stroke-width="0.8"/>
<line x1="489.07" y1="161.8" x2="489.07" y2="159.3" stroke="#cccccc" stroke-width="0.8"/>
<line x1="495.65" y1="161.8" x2="495.65" y2="157.8" stroke="#cccccc" stroke-width="0.8"/>
<line x1="502.22" y1="161.8" x2="502.22" y2="159.3" stroke="#cccccc" stroke-width="0.8"/>
<line x1="508.8" y1="161.8" x2="508.8" y2="157.8" stroke="#cccccc" stroke-width="0.8"/>
<line x1="515.37" y1="161.8" x2="515.37" y2="159.3" stroke="#cccccc" stroke-width="0.8"/>
<line x1="521.95" y1="161.8" x2="521.95" y2="157.8" stroke="#cccccc" stroke-width="0.8"/>
<line x1="528.52" y1="161.8" x2="528.52" y2="159.3" stroke="#cccccc" stroke-width="0.8"/>
<line x1="535.1" y1="161.8" x2="535.1" y2="157.8" stroke="#cccccc" stroke-width="0.8"/>
<line x1="541.67" y1="161.8" x2="541.67" y2="159.3" stroke="#cccccc" stroke-width="0.8"/>
<text x="351.3" y="170.3" text-anchor="middle" class="t">20</text>
<text x="403.6" y="170.3" text-anchor="middle" class="t">40</text>
<text x="454" y="170.3" text-anchor="middle" class="t">60</text>
<text x="508.5" y="170.3" text-anchor="middle" class="t">80</text>
<text x="375" y="30.5" class="t">Porticello 2005-2010</text>
<text x="435" y="154.7" class="t">Transect number</text>
<line x1="20.8" y1="174.2" x2="20.8" y2="328.4" stroke="#c8c8c8" stroke-width="1"/>
<line x1="20.8" y1="251.3" x2="272.6" y2="251.3" stroke="#8a8a8a" stroke-width="1"/>
<line x1="16.3" y1="174.2" x2="20.8" y2="174.2" stroke="#c8c8c8" stroke-width="1"/>
<text x="13.3" y="177.3" text-anchor="end" class="t" style="fill:#b82050;stroke:#b82050">3</text>
<line x1="16.3" y1="199.9" x2="20.8" y2="199.9" stroke="#c8c8c8" stroke-width="1"/>
<text x="13.3" y="203" text-anchor="end" class="t">2</text>
<line x1="16.3" y1="225.6" x2="20.8" y2="225.6" stroke="#c8c8c8" stroke-width="1"/>
<text x="13.3" y="228.7" text-anchor="end" class="t">1</text>
<line x1="16.3" y1="251.3" x2="20.8" y2="251.3" stroke="#c8c8c8" stroke-width="1"/>
<text x="13.3" y="254.4" text-anchor="end" class="t">0</text>
<line x1="16.3" y1="277" x2="20.8" y2="277" stroke="#c8c8c8" stroke-width="1"/>
<text x="13.3" y="280.1" text-anchor="end" class="t">-1</text>
<line x1="16.3" y1="302.7" x2="20.8" y2="302.7" stroke="#c8c8c8" stroke-width="1"/>
<text x="13.3" y="305.8" text-anchor="end" class="t">-2</text>
<line x1="16.3" y1="328.4" x2="20.8" y2="328.4" stroke="#c8c8c8" stroke-width="1"/>
<text x="13.3" y="331.5" text-anchor="end" class="t">-3</text>
<line x1="17.8" y1="187.05" x2="20.8" y2="187.05" stroke="#d4d4d4" stroke-width="1"/>
<line x1="17.8" y1="212.75" x2="20.8" y2="212.75" stroke="#d4d4d4" stroke-width="1"/>
<line x1="17.8" y1="238.45" x2="20.8" y2="238.45" stroke="#d4d4d4" stroke-width="1"/>
<line x1="17.8" y1="264.15" x2="20.8" y2="264.15" stroke="#d4d4d4" stroke-width="1"/>
<line x1="17.8" y1="289.85" x2="20.8" y2="289.85" stroke="#d4d4d4" stroke-width="1"/>
<line x1="17.8" y1="315.55" x2="20.8" y2="315.55" stroke="#d4d4d4" stroke-width="1"/>
<line x1="20.8" y1="328.4" x2="273.6" y2="328.4" stroke="#c8c8c8" stroke-width="1"/>
<line x1="27" y1="328.4" x2="27" y2="324.4" stroke="#cccccc" stroke-width="0.8"/>
<line x1="33.58" y1="328.4" x2="33.58" y2="325.9" stroke="#cccccc" stroke-width="0.8"/>
<line x1="40.15" y1="328.4" x2="40.15" y2="324.4" stroke="#cccccc" stroke-width="0.8"/>
<line x1="46.73" y1="328.4" x2="46.73" y2="325.9" stroke="#cccccc" stroke-width="0.8"/>
<line x1="53.3" y1="328.4" x2="53.3" y2="324.4" stroke="#cccccc" stroke-width="0.8"/>
<line x1="59.88" y1="328.4" x2="59.88" y2="325.9" stroke="#cccccc" stroke-width="0.8"/>
<line x1="66.45" y1="328.4" x2="66.45" y2="324.4" stroke="#cccccc" stroke-width="0.8"/>
<line x1="73.03" y1="328.4" x2="73.03" y2="325.9" stroke="#cccccc" stroke-width="0.8"/>
<line x1="79.6" y1="328.4" x2="79.6" y2="324.4" stroke="#cccccc" stroke-width="0.8"/>
<line x1="86.18" y1="328.4" x2="86.18" y2="325.9" stroke="#cccccc" stroke-width="0.8"/>
<line x1="92.75" y1="328.4" x2="92.75" y2="324.4" stroke="#cccccc" stroke-width="0.8"/>
<line x1="99.33" y1="328.4" x2="99.33" y2="325.9" stroke="#cccccc" stroke-width="0.8"/>
<line x1="105.9" y1="328.4" x2="105.9" y2="324.4" stroke="#cccccc" stroke-width="0.8"/>
<line x1="112.48" y1="328.4" x2="112.48" y2="325.9" stroke="#cccccc" stroke-width="0.8"/>
<line x1="119.05" y1="328.4" x2="119.05" y2="324.4" stroke="#cccccc" stroke-width="0.8"/>
<line x1="125.63" y1="328.4" x2="125.63" y2="325.9" stroke="#cccccc" stroke-width="0.8"/>
<line x1="132.2" y1="328.4" x2="132.2" y2="324.4" stroke="#cccccc" stroke-width="0.8"/>
<line x1="138.78" y1="328.4" x2="138.78" y2="325.9" stroke="#cccccc" stroke-width="0.8"/>
<line x1="145.35" y1="328.4" x2="145.35" y2="324.4" stroke="#cccccc" stroke-width="0.8"/>
<line x1="151.93" y1="328.4" x2="151.93" y2="325.9" stroke="#cccccc" stroke-width="0.8"/>
<line x1="158.5" y1="328.4" x2="158.5" y2="324.4" stroke="#cccccc" stroke-width="0.8"/>
<line x1="165.07" y1="328.4" x2="165.07" y2="325.9" stroke="#cccccc" stroke-width="0.8"/>
<line x1="171.65" y1="328.4" x2="171.65" y2="324.4" stroke="#cccccc" stroke-width="0.8"/>
<line x1="178.22" y1="328.4" x2="178.22" y2="325.9" stroke="#cccccc" stroke-width="0.8"/>
<line x1="184.8" y1="328.4" x2="184.8" y2="324.4" stroke="#cccccc" stroke-width="0.8"/>
<line x1="191.37" y1="328.4" x2="191.37" y2="325.9" stroke="#cccccc" stroke-width="0.8"/>
<line x1="197.95" y1="328.4" x2="197.95" y2="324.4" stroke="#cccccc" stroke-width="0.8"/>
<line x1="204.52" y1="328.4" x2="204.52" y2="325.9" stroke="#cccccc" stroke-width="0.8"/>
<line x1="211.1" y1="328.4" x2="211.1" y2="324.4" stroke="#cccccc" stroke-width="0.8"/>
<line x1="217.67" y1="328.4" x2="217.67" y2="325.9" stroke="#cccccc" stroke-width="0.8"/>
<line x1="224.25" y1="328.4" x2="224.25" y2="324.4" stroke="#cccccc" stroke-width="0.8"/>
<line x1="230.82" y1="328.4" x2="230.82" y2="325.9" stroke="#cccccc" stroke-width="0.8"/>
<line x1="237.4" y1="328.4" x2="237.4" y2="324.4" stroke="#cccccc" stroke-width="0.8"/>
<line x1="243.97" y1="328.4" x2="243.97" y2="325.9" stroke="#cccccc" stroke-width="0.8"/>
<line x1="250.55" y1="328.4" x2="250.55" y2="324.4" stroke="#cccccc" stroke-width="0.8"/>
<line x1="257.12" y1="328.4" x2="257.12" y2="325.9" stroke="#cccccc" stroke-width="0.8"/>
<line x1="263.7" y1="328.4" x2="263.7" y2="324.4" stroke="#cccccc" stroke-width="0.8"/>
<line x1="270.27" y1="328.4" x2="270.27" y2="325.9" stroke="#cccccc" stroke-width="0.8"/>
<text x="79.6" y="338" text-anchor="middle" class="t">20</text>
<text x="132" y="338" text-anchor="middle" class="t">40</text>
<text x="184.4" y="338" text-anchor="middle" class="t" style="fill:#1a5a40;stroke:#1a5a40">60</text>
<text x="236.8" y="338" text-anchor="middle" class="t">80</text>
<text x="81" y="189.6" class="t"><tspan style="fill:#1d5c40;stroke:#1d5c40">Porticello </tspan><tspan style="fill:#7a2040;stroke:#7a2040">2010</tspan><tspan style="fill:#1d5c40;stroke:#1d5c40">-2013</tspan></text>
<text x="98.8" y="318.5" class="t">Transect number</text>
<line x1="291.3" y1="172.4" x2="291.3" y2="326.0" stroke="#c8c8c8" stroke-width="1"/>
<line x1="291.3" y1="249.8" x2="544.0" y2="249.8" stroke="#8a8a8a" stroke-width="1"/>
<line x1="286.8" y1="173" x2="291.3" y2="173" stroke="#c8c8c8" stroke-width="1"/>
<text x="283.8" y="176.1" text-anchor="end" class="t">1</text>
<line x1="286.8" y1="249.8" x2="291.3" y2="249.8" stroke="#c8c8c8" stroke-width="1"/>
<text x="283.8" y="252.9" text-anchor="end" class="t">0</text>
<line x1="286.8" y1="326.6" x2="291.3" y2="326.6" stroke="#c8c8c8" stroke-width="1"/>
<text x="283.8" y="329.7" text-anchor="end" class="t">-1</text>
<line x1="288.3" y1="211.4" x2="291.3" y2="211.4" stroke="#d4d4d4" stroke-width="1"/>
<line x1="288.3" y1="288.2" x2="291.3" y2="288.2" stroke="#d4d4d4" stroke-width="1"/>
<line x1="291.3" y1="326.0" x2="545" y2="326.0" stroke="#c8c8c8" stroke-width="1"/>
<line x1="298.4" y1="326.0" x2="298.4" y2="322" stroke="#cccccc" stroke-width="0.8"/>
<line x1="304.97" y1="326.0" x2="304.97" y2="323.5" stroke="#cccccc" stroke-width="0.8"/>
<line x1="311.55" y1="326.0" x2="311.55" y2="322" stroke="#cccccc" stroke-width="0.8"/>
<line x1="318.12" y1="326.0" x2="318.12" y2="323.5" stroke="#cccccc" stroke-width="0.8"/>
<line x1="324.7" y1="326.0" x2="324.7" y2="322" stroke="#cccccc" stroke-width="0.8"/>
<line x1="331.27" y1="326.0" x2="331.27" y2="323.5" stroke="#cccccc" stroke-width="0.8"/>
<line x1="337.85" y1="326.0" x2="337.85" y2="322" stroke="#cccccc" stroke-width="0.8"/>
<line x1="344.42" y1="326.0" x2="344.42" y2="323.5" stroke="#cccccc" stroke-width="0.8"/>
<line x1="351" y1="326.0" x2="351" y2="322" stroke="#cccccc" stroke-width="0.8"/>
<line x1="357.57" y1="326.0" x2="357.57" y2="323.5" stroke="#cccccc" stroke-width="0.8"/>
<line x1="364.15" y1="326.0" x2="364.15" y2="322" stroke="#cccccc" stroke-width="0.8"/>
<line x1="370.72" y1="326.0" x2="370.72" y2="323.5" stroke="#cccccc" stroke-width="0.8"/>
<line x1="377.3" y1="326.0" x2="377.3" y2="322" stroke="#cccccc" stroke-width="0.8"/>
<line x1="383.87" y1="326.0" x2="383.87" y2="323.5" stroke="#cccccc" stroke-width="0.8"/>
<line x1="390.45" y1="326.0" x2="390.45" y2="322" stroke="#cccccc" stroke-width="0.8"/>
<line x1="397.02" y1="326.0" x2="397.02" y2="323.5" stroke="#cccccc" stroke-width="0.8"/>
<line x1="403.6" y1="326.0" x2="403.6" y2="322" stroke="#cccccc" stroke-width="0.8"/>
<line x1="410.17" y1="326.0" x2="410.17" y2="323.5" stroke="#cccccc" stroke-width="0.8"/>
<line x1="416.75" y1="326.0" x2="416.75" y2="322" stroke="#cccccc" stroke-width="0.8"/>
<line x1="423.32" y1="326.0" x2="423.32" y2="323.5" stroke="#cccccc" stroke-width="0.8"/>
<line x1="429.9" y1="326.0" x2="429.9" y2="322" stroke="#cccccc" stroke-width="0.8"/>
<line x1="436.47" y1="326.0" x2="436.47" y2="323.5" stroke="#cccccc" stroke-width="0.8"/>
<line x1="443.05" y1="326.0" x2="443.05" y2="322" stroke="#cccccc" stroke-width="0.8"/>
<line x1="449.62" y1="326.0" x2="449.62" y2="323.5" stroke="#cccccc" stroke-width="0.8"/>
<line x1="456.2" y1="326.0" x2="456.2" y2="322" stroke="#cccccc" stroke-width="0.8"/>
<line x1="462.77" y1="326.0" x2="462.77" y2="323.5" stroke="#cccccc" stroke-width="0.8"/>
<line x1="469.35" y1="326.0" x2="469.35" y2="322" stroke="#cccccc" stroke-width="0.8"/>
<line x1="475.92" y1="326.0" x2="475.92" y2="323.5" stroke="#cccccc" stroke-width="0.8"/>
<line x1="482.5" y1="326.0" x2="482.5" y2="322" stroke="#cccccc" stroke-width="0.8"/>
<line x1="489.07" y1="326.0" x2="489.07" y2="323.5" stroke="#cccccc" stroke-width="0.8"/>
<line x1="495.65" y1="326.0" x2="495.65" y2="322" stroke="#cccccc" stroke-width="0.8"/>
<line x1="502.22" y1="326.0" x2="502.22" y2="323.5" stroke="#cccccc" stroke-width="0.8"/>
<line x1="508.8" y1="326.0" x2="508.8" y2="322" stroke="#cccccc" stroke-width="0.8"/>
<line x1="515.37" y1="326.0" x2="515.37" y2="323.5" stroke="#cccccc" stroke-width="0.8"/>
<line x1="521.95" y1="326.0" x2="521.95" y2="322" stroke="#cccccc" stroke-width="0.8"/>
<line x1="528.52" y1="326.0" x2="528.52" y2="323.5" stroke="#cccccc" stroke-width="0.8"/>
<line x1="535.1" y1="326.0" x2="535.1" y2="322" stroke="#cccccc" stroke-width="0.8"/>
<line x1="541.67" y1="326.0" x2="541.67" y2="323.5" stroke="#cccccc" stroke-width="0.8"/>
<text x="352.5" y="337.5" text-anchor="middle" class="t">20</text>
<text x="405" y="337.5" text-anchor="middle" class="t">40</text>
<text x="455.5" y="337.5" text-anchor="middle" class="t">60</text>
<text x="509.5" y="337.5" text-anchor="middle" class="t">80</text>
<text x="300" y="194" class="t">Porticello 1978-2013</text>
<text x="389.5" y="318" class="t">Transect number</text>
<rect x="22.7" y="81.6" width="2.61" height="3.6" fill="#74aaf0"/>
<line x1="25.31" y1="81.6" x2="25.31" y2="85.2" stroke="#34c4ea" stroke-width="0.5"/>
<rect x="25.31" y="80.2" width="2.61" height="5" fill="#74aaf0"/>
<line x1="27.91" y1="80.2" x2="27.91" y2="85.2" stroke="#34c4ea" stroke-width="0.5"/>
<rect x="27.91" y="84.5" width="2.61" height="0.7" fill="#74aaf0"/>
<line x1="30.52" y1="84.5" x2="30.52" y2="85.2" stroke="#34c4ea" stroke-width="0.5"/>
<rect x="30.52" y="84.3" width="2.61" height="0.9" fill="#74aaf0"/>
<line x1="33.12" y1="84.3" x2="33.12" y2="85.2" stroke="#34c4ea" stroke-width="0.5"/>
<rect x="33.12" y="84.6" width="2.61" height="0.6" fill="#74aaf0"/>
<line x1="35.73" y1="84.6" x2="35.73" y2="85.2" stroke="#34c4ea" stroke-width="0.5"/>
<rect x="40.94" y="85.2" width="2.61" height="0.8" fill="#74aaf0"/>
<line x1="43.55" y1="85.2" x2="43.55" y2="86" stroke="#34c4ea" stroke-width="0.5"/>
<rect x="43.55" y="85.2" width="2.61" height="1.3" fill="#74aaf0"/>
<line x1="46.16" y1="85.2" x2="46.16" y2="86.5" stroke="#34c4ea" stroke-width="0.5"/>
<rect x="46.16" y="85.2" width="2.61" height="1.3" fill="#74aaf0"/>
<line x1="48.76" y1="85.2" x2="48.76" y2="86.5" stroke="#34c4ea" stroke-width="0.5"/>
<rect x="48.76" y="85.2" width="2.61" height="3.3" fill="#74aaf0"/>
<line x1="51.37" y1="85.2" x2="51.37" y2="88.5" stroke="#34c4ea" stroke-width="0.5"/>
<rect x="51.37" y="85.2" width="2.61" height="3.6" fill="#74aaf0"/>
<line x1="53.98" y1="85.2" x2="53.98" y2="88.8" stroke="#34c4ea" stroke-width="0.5"/>
<rect x="53.98" y="85.2" width="2.61" height="1.3" fill="#74aaf0"/>
<line x1="56.58" y1="85.2" x2="56.58" y2="86.5" stroke="#34c4ea" stroke-width="0.5"/>
<rect x="56.58" y="85.2" width="2.61" height="1.1" fill="#74aaf0"/>
<line x1="59.19" y1="85.2" x2="59.19" y2="86.3" stroke="#34c4ea" stroke-width="0.5"/>
<rect x="59.19" y="85.2" width="2.61" height="0.8" fill="#74aaf0"/>
<line x1="61.79" y1="85.2" x2="61.79" y2="86" stroke="#34c4ea" stroke-width="0.5"/>
<rect x="61.79" y="82.7" width="2.61" height="2.5" fill="#74aaf0"/>
<line x1="64.4" y1="82.7" x2="64.4" y2="85.2" stroke="#34c4ea" stroke-width="0.5"/>
<rect x="64.4" y="82.7" width="2.61" height="2.5" fill="#74aaf0"/>
<line x1="67.01" y1="82.7" x2="67.01" y2="85.2" stroke="#34c4ea" stroke-width="0.5"/>
<rect x="67.01" y="80" width="2.61" height="5.2" fill="#74aaf0"/>
<line x1="69.61" y1="80" x2="69.61" y2="85.2" stroke="#34c4ea" stroke-width="0.5"/>
<rect x="69.61" y="79" width="2.61" height="6.2" fill="#74aaf0"/>
<line x1="72.22" y1="79" x2="72.22" y2="85.2" stroke="#34c4ea" stroke-width="0.5"/>
<rect x="72.22" y="77" width="2.61" height="8.2" fill="#74aaf0"/>
<line x1="74.83" y1="77" x2="74.83" y2="85.2" stroke="#34c4ea" stroke-width="0.5"/>
<rect x="74.83" y="75.5" width="2.61" height="9.7" fill="#74aaf0"/>
<line x1="77.43" y1="75.5" x2="77.43" y2="85.2" stroke="#34c4ea" stroke-width="0.5"/>
<rect x="77.43" y="77.8" width="2.61" height="7.4" fill="#74aaf0"/>
<line x1="80.04" y1="77.8" x2="80.04" y2="85.2" stroke="#34c4ea" stroke-width="0.5"/>
<rect x="80.04" y="77" width="2.61" height="8.2" fill="#74aaf0"/>
<line x1="82.64" y1="77" x2="82.64" y2="85.2" stroke="#34c4ea" stroke-width="0.5"/>
<rect x="82.64" y="77.8" width="2.61" height="7.4" fill="#74aaf0"/>
<line x1="85.25" y1="77.8" x2="85.25" y2="85.2" stroke="#34c4ea" stroke-width="0.5"/>
<rect x="85.25" y="77.5" width="2.61" height="7.7" fill="#74aaf0"/>
<line x1="87.86" y1="77.5" x2="87.86" y2="85.2" stroke="#34c4ea" stroke-width="0.5"/>
<rect x="87.86" y="77.5" width="2.61" height="7.7" fill="#74aaf0"/>
<line x1="90.46" y1="77.5" x2="90.46" y2="85.2" stroke="#34c4ea" stroke-width="0.5"/>
<rect x="90.46" y="77.8" width="2.61" height="7.4" fill="#74aaf0"/>
<line x1="93.07" y1="77.8" x2="93.07" y2="85.2" stroke="#34c4ea" stroke-width="0.5"/>
<rect x="93.07" y="77.5" width="2.61" height="7.7" fill="#74aaf0"/>
<line x1="95.68" y1="77.5" x2="95.68" y2="85.2" stroke="#34c4ea" stroke-width="0.5"/>
<rect x="95.68" y="76.4" width="2.61" height="8.8" fill="#74aaf0"/>
<line x1="98.28" y1="76.4" x2="98.28" y2="85.2" stroke="#34c4ea" stroke-width="0.5"/>
<rect x="98.28" y="71.8" width="2.61" height="13.4" fill="#74aaf0"/>
<line x1="100.89" y1="71.8" x2="100.89" y2="85.2" stroke="#34c4ea" stroke-width="0.5"/>
<rect x="100.89" y="70" width="2.61" height="15.2" fill="#74aaf0"/>
<line x1="103.49" y1="70" x2="103.49" y2="85.2" stroke="#34c4ea" stroke-width="0.5"/>
<rect x="103.49" y="68" width="2.61" height="17.2" fill="#74aaf0"/>
<line x1="106.1" y1="68" x2="106.1" y2="85.2" stroke="#34c4ea" stroke-width="0.5"/>
<rect x="106.1" y="65.5" width="2.61" height="19.7" fill="#74aaf0"/>
<line x1="108.71" y1="65.5" x2="108.71" y2="85.2" stroke="#34c4ea" stroke-width="0.5"/>
<rect x="108.71" y="63" width="2.61" height="1" fill="#74aaf0"/>
<rect x="108.71" y="64" width="2.61" height="16" fill="#14e6f0"/>
<rect x="108.71" y="80" width="2.61" height="5.2" fill="#74aaf0"/>
<line x1="111.31" y1="63" x2="111.31" y2="85.2" stroke="#34c4ea" stroke-width="0.5"/>
<rect x="111.31" y="61" width="2.61" height="3" fill="#74aaf0"/>
<rect x="111.31" y="64" width="2.61" height="16" fill="#14e6f0"/>
<rect x="111.31" y="80" width="2.61" height="5.2" fill="#74aaf0"/>
<line x1="113.92" y1="61" x2="113.92" y2="85.2" stroke="#34c4ea" stroke-width="0.5"/>
<rect x="113.92" y="59" width="2.61" height="5" fill="#74aaf0"/>
<rect x="113.92" y="64" width="2.61" height="16" fill="#14e6f0"/>
<rect x="113.92" y="80" width="2.61" height="5.2" fill="#74aaf0"/>
<line x1="116.53" y1="59" x2="116.53" y2="85.2" stroke="#34c4ea" stroke-width="0.5"/>
<rect x="116.53" y="56.4" width="2.61" height="7.6" fill="#74aaf0"/>
<rect x="116.53" y="64" width="2.61" height="16" fill="#14e6f0"/>
<rect x="116.53" y="80" width="2.61" height="5.2" fill="#74aaf0"/>
<line x1="119.13" y1="56.4" x2="119.13" y2="85.2" stroke="#34c4ea" stroke-width="0.5"/>
<rect x="119.13" y="54.5" width="2.61" height="9.5" fill="#74aaf0"/>
<rect x="119.13" y="64" width="2.61" height="16" fill="#14e6f0"/>
<rect x="119.13" y="80" width="2.61" height="5.2" fill="#74aaf0"/>
<line x1="121.74" y1="54.5" x2="121.74" y2="85.2" stroke="#34c4ea" stroke-width="0.5"/>
<rect x="121.74" y="51" width="2.61" height="13" fill="#74aaf0"/>
<rect x="121.74" y="64" width="2.61" height="16" fill="#14e6f0"/>
<rect x="121.74" y="80" width="2.61" height="5.2" fill="#74aaf0"/>
<line x1="124.34" y1="51" x2="124.34" y2="85.2" stroke="#34c4ea" stroke-width="0.5"/>
<rect x="124.34" y="49" width="2.61" height="15" fill="#74aaf0"/>
<rect x="124.34" y="64" width="2.61" height="16" fill="#14e6f0"/>
<rect x="124.34" y="80" width="2.61" height="5.2" fill="#74aaf0"/>
<line x1="126.95" y1="49" x2="126.95" y2="85.2" stroke="#34c4ea" stroke-width="0.5"/>
<rect x="126.95" y="47" width="2.61" height="1" fill="#74aaf0"/>
<rect x="126.95" y="48" width="2.61" height="16" fill="#14e6f0"/>
<rect x="126.95" y="64" width="2.61" height="16" fill="#14e6f0"/>
<rect x="126.95" y="80" width="2.61" height="5.2" fill="#74aaf0"/>
<line x1="129.56" y1="47" x2="129.56" y2="85.2" stroke="#34c4ea" stroke-width="0.5"/>
<rect x="129.56" y="45" width="2.61" height="3" fill="#74aaf0"/>
<rect x="129.56" y="48" width="2.61" height="16" fill="#14e6f0"/>
<rect x="129.56" y="64" width="2.61" height="16" fill="#14e6f0"/>
<rect x="129.56" y="80" width="2.61" height="5.2" fill="#74aaf0"/>
<line x1="132.16" y1="45" x2="132.16" y2="85.2" stroke="#34c4ea" stroke-width="0.5"/>
<rect x="132.16" y="45" width="2.61" height="3" fill="#74aaf0"/>
<rect x="132.16" y="48" width="2.61" height="16" fill="#14e6f0"/>
<rect x="132.16" y="64" width="2.61" height="16" fill="#14e6f0"/>
<rect x="132.16" y="80" width="2.61" height="5.2" fill="#74aaf0"/>
<line x1="134.77" y1="45" x2="134.77" y2="85.2" stroke="#34c4ea" stroke-width="0.5"/>
<rect x="134.77" y="45" width="2.61" height="3" fill="#74aaf0"/>
<rect x="134.77" y="48" width="2.61" height="16" fill="#14e6f0"/>
<rect x="134.77" y="64" width="2.61" height="16" fill="#14e6f0"/>
<rect x="134.77" y="80" width="2.61" height="5.2" fill="#74aaf0"/>
<line x1="137.38" y1="45" x2="137.38" y2="85.2" stroke="#34c4ea" stroke-width="0.5"/>
<rect x="137.38" y="44.5" width="2.61" height="3.5" fill="#74aaf0"/>
<rect x="137.38" y="48" width="2.61" height="16" fill="#14e6f0"/>
<rect x="137.38" y="64" width="2.61" height="16" fill="#14e6f0"/>
<rect x="137.38" y="80" width="2.61" height="5.2" fill="#74aaf0"/>
<line x1="139.98" y1="44.5" x2="139.98" y2="85.2" stroke="#34c4ea" stroke-width="0.5"/>
<rect x="139.98" y="44.5" width="2.61" height="3.5" fill="#74aaf0"/>
<rect x="139.98" y="48" width="2.61" height="16" fill="#14e6f0"/>
<rect x="139.98" y="64" width="2.61" height="16" fill="#14e6f0"/>
<rect x="139.98" y="80" width="2.61" height="5.2" fill="#74aaf0"/>
<line x1="142.59" y1="44.5" x2="142.59" y2="85.2" stroke="#34c4ea" stroke-width="0.5"/>
<rect x="142.59" y="41" width="2.61" height="7" fill="#74aaf0"/>
<rect x="142.59" y="48" width="2.61" height="16" fill="#14e6f0"/>
<rect x="142.59" y="64" width="2.61" height="16" fill="#14e6f0"/>
<rect x="142.59" y="80" width="2.61" height="5.2" fill="#74aaf0"/>
<line x1="145.19" y1="41" x2="145.19" y2="85.2" stroke="#34c4ea" stroke-width="0.5"/>
<rect x="145.19" y="41" width="2.61" height="7" fill="#74aaf0"/>
<rect x="145.19" y="48" width="2.61" height="16" fill="#14e6f0"/>
<rect x="145.19" y="64" width="2.61" height="16" fill="#14e6f0"/>
<rect x="145.19" y="80" width="2.61" height="5.2" fill="#74aaf0"/>
<line x1="147.8" y1="41" x2="147.8" y2="85.2" stroke="#34c4ea" stroke-width="0.5"/>
<rect x="172" y="68.1" width="2.6" height="17.1" fill="#74aaf0"/>
<line x1="174.6" y1="68.1" x2="174.6" y2="85.2" stroke="#34c4ea" stroke-width="0.5"/>
<rect x="174.6" y="68" width="2.6" height="17.2" fill="#74aaf0"/>
<line x1="177.21" y1="68" x2="177.21" y2="85.2" stroke="#34c4ea" stroke-width="0.5"/>
<rect x="177.21" y="67" width="2.6" height="18.2" fill="#74aaf0"/>
<line x1="179.81" y1="67" x2="179.81" y2="85.2" stroke="#34c4ea" stroke-width="0.5"/>
<rect x="179.81" y="65.9" width="2.6" height="19.3" fill="#74aaf0"/>
<line x1="182.41" y1="65.9" x2="182.41" y2="85.2" stroke="#34c4ea" stroke-width="0.5"/>
<rect x="182.41" y="67" width="2.6" height="18.2" fill="#74aaf0"/>
<line x1="185.01" y1="67" x2="185.01" y2="85.2" stroke="#34c4ea" stroke-width="0.5"/>
<rect x="185.01" y="69" width="2.6" height="16.2" fill="#74aaf0"/>
<line x1="187.62" y1="69" x2="187.62" y2="85.2" stroke="#34c4ea" stroke-width="0.5"/>
<rect x="187.62" y="70.3" width="2.6" height="14.9" fill="#74aaf0"/>
<line x1="190.22" y1="70.3" x2="190.22" y2="85.2" stroke="#34c4ea" stroke-width="0.5"/>
<rect x="190.22" y="75.2" width="2.6" height="10" fill="#74aaf0"/>
<line x1="192.82" y1="75.2" x2="192.82" y2="85.2" stroke="#34c4ea" stroke-width="0.5"/>
<rect x="192.82" y="75.7" width="2.6" height="9.5" fill="#74aaf0"/>
<line x1="195.42" y1="75.7" x2="195.42" y2="85.2" stroke="#34c4ea" stroke-width="0.5"/>
<rect x="195.42" y="75" width="2.6" height="10.2" fill="#74aaf0"/>
<line x1="198.03" y1="75" x2="198.03" y2="85.2" stroke="#34c4ea" stroke-width="0.5"/>
<rect x="198.03" y="74.6" width="2.6" height="10.6" fill="#74aaf0"/>
<line x1="200.63" y1="74.6" x2="200.63" y2="85.2" stroke="#34c4ea" stroke-width="0.5"/>
<rect x="200.63" y="74.5" width="2.6" height="10.7" fill="#74aaf0"/>
<line x1="203.23" y1="74.5" x2="203.23" y2="85.2" stroke="#34c4ea" stroke-width="0.5"/>
<rect x="203.23" y="75" width="2.6" height="10.2" fill="#74aaf0"/>
<line x1="205.83" y1="75" x2="205.83" y2="85.2" stroke="#34c4ea" stroke-width="0.5"/>
<rect x="205.83" y="74" width="2.6" height="11.2" fill="#74aaf0"/>
<line x1="208.44" y1="74" x2="208.44" y2="85.2" stroke="#34c4ea" stroke-width="0.5"/>
<rect x="208.44" y="78.4" width="2.6" height="6.8" fill="#74aaf0"/>
<line x1="211.04" y1="78.4" x2="211.04" y2="85.2" stroke="#34c4ea" stroke-width="0.5"/>
<rect x="211.04" y="79.5" width="2.6" height="5.7" fill="#74aaf0"/>
<line x1="213.64" y1="79.5" x2="213.64" y2="85.2" stroke="#34c4ea" stroke-width="0.5"/>
<rect x="213.64" y="80.6" width="2.6" height="4.6" fill="#74aaf0"/>
<line x1="216.24" y1="80.6" x2="216.24" y2="85.2" stroke="#34c4ea" stroke-width="0.5"/>
<rect x="216.24" y="80.6" width="2.6" height="4.6" fill="#74aaf0"/>
<line x1="218.85" y1="80.6" x2="218.85" y2="85.2" stroke="#34c4ea" stroke-width="0.5"/>
<rect x="218.85" y="80.5" width="2.6" height="4.7" fill="#74aaf0"/>
<line x1="221.45" y1="80.5" x2="221.45" y2="85.2" stroke="#34c4ea" stroke-width="0.5"/>
<rect x="221.45" y="80.5" width="2.6" height="4.7" fill="#74aaf0"/>
<line x1="224.05" y1="80.5" x2="224.05" y2="85.2" stroke="#34c4ea" stroke-width="0.5"/>
<rect x="224.05" y="80" width="2.6" height="5.2" fill="#74aaf0"/>
<line x1="226.65" y1="80" x2="226.65" y2="85.2" stroke="#34c4ea" stroke-width="0.5"/>
<rect x="226.65" y="78" width="2.6" height="7.2" fill="#74aaf0"/>
<line x1="229.26" y1="78" x2="229.26" y2="85.2" stroke="#34c4ea" stroke-width="0.5"/>
<rect x="229.26" y="77" width="2.6" height="8.2" fill="#74aaf0"/>
<line x1="231.86" y1="77" x2="231.86" y2="85.2" stroke="#34c4ea" stroke-width="0.5"/>
<rect x="231.86" y="75.7" width="2.6" height="9.5" fill="#74aaf0"/>
<line x1="234.46" y1="75.7" x2="234.46" y2="85.2" stroke="#34c4ea" stroke-width="0.5"/>
<rect x="234.46" y="74.5" width="2.6" height="10.7" fill="#74aaf0"/>
<line x1="237.06" y1="74.5" x2="237.06" y2="85.2" stroke="#34c4ea" stroke-width="0.5"/>
<rect x="237.06" y="73.5" width="2.6" height="11.7" fill="#74aaf0"/>
<line x1="239.67" y1="73.5" x2="239.67" y2="85.2" stroke="#34c4ea" stroke-width="0.5"/>
<rect x="239.67" y="73" width="2.6" height="12.2" fill="#74aaf0"/>
<line x1="242.27" y1="73" x2="242.27" y2="85.2" stroke="#34c4ea" stroke-width="0.5"/>
<rect x="242.27" y="73" width="2.6" height="12.2" fill="#74aaf0"/>
<line x1="244.87" y1="73" x2="244.87" y2="85.2" stroke="#34c4ea" stroke-width="0.5"/>
<rect x="244.87" y="73" width="2.6" height="12.2" fill="#74aaf0"/>
<line x1="247.47" y1="73" x2="247.47" y2="85.2" stroke="#34c4ea" stroke-width="0.5"/>
<rect x="247.47" y="73.5" width="2.6" height="11.7" fill="#74aaf0"/>
<line x1="250.08" y1="73.5" x2="250.08" y2="85.2" stroke="#34c4ea" stroke-width="0.5"/>
<rect x="250.08" y="74" width="2.6" height="11.2" fill="#74aaf0"/>
<line x1="252.68" y1="74" x2="252.68" y2="85.2" stroke="#34c4ea" stroke-width="0.5"/>
<rect x="252.68" y="76" width="2.6" height="9.2" fill="#74aaf0"/>
<line x1="255.28" y1="76" x2="255.28" y2="85.2" stroke="#34c4ea" stroke-width="0.5"/>
<rect x="255.28" y="79" width="2.6" height="6.2" fill="#74aaf0"/>
<line x1="257.88" y1="79" x2="257.88" y2="85.2" stroke="#34c4ea" stroke-width="0.5"/>
<rect x="257.88" y="80.5" width="2.6" height="4.7" fill="#74aaf0"/>
<line x1="260.49" y1="80.5" x2="260.49" y2="85.2" stroke="#34c4ea" stroke-width="0.5"/>
<rect x="260.49" y="81" width="2.6" height="4.2" fill="#74aaf0"/>
<line x1="263.09" y1="81" x2="263.09" y2="85.2" stroke="#34c4ea" stroke-width="0.5"/>
<rect x="263.09" y="81.6" width="2.6" height="3.6" fill="#74aaf0"/>
<line x1="265.69" y1="81.6" x2="265.69" y2="85.2" stroke="#34c4ea" stroke-width="0.5"/>
<rect x="265.69" y="82" width="2.6" height="3.2" fill="#74aaf0"/>
<line x1="268.29" y1="82" x2="268.29" y2="85.2" stroke="#34c4ea" stroke-width="0.5"/>
<rect x="268.29" y="82.3" width="2.6" height="2.9" fill="#74aaf0"/>
<line x1="270.9" y1="82.3" x2="270.9" y2="85.2" stroke="#34c4ea" stroke-width="0.5"/>
<rect x="270.9" y="82.3" width="2.6" height="2.9" fill="#74aaf0"/>
<line x1="273.5" y1="82.3" x2="273.5" y2="85.2" stroke="#34c4ea" stroke-width="0.5"/>
<rect x="293.5" y="85.3" width="2.62" height="12" fill="#74aaf0"/>
<line x1="296.12" y1="85.3" x2="296.12" y2="97.3" stroke="#34c4ea" stroke-width="0.5"/>
<rect x="296.12" y="85.3" width="2.62" height="12.7" fill="#74aaf0"/>
<line x1="298.73" y1="85.3" x2="298.73" y2="98" stroke="#34c4ea" stroke-width="0.5"/>
<rect x="298.73" y="85.3" width="2.62" height="14.7" fill="#74aaf0"/>
<line x1="301.35" y1="85.3" x2="301.35" y2="100" stroke="#34c4ea" stroke-width="0.5"/>
<rect x="301.35" y="85.3" width="2.62" height="16.5" fill="#74aaf0"/>
<line x1="303.97" y1="85.3" x2="303.97" y2="101.8" stroke="#34c4ea" stroke-width="0.5"/>
<rect x="303.97" y="85.3" width="2.62" height="21.7" fill="#14e6f0"/>
<rect x="303.97" y="101" width="2.62" height="6" fill="#74aaf0"/>
<line x1="306.59" y1="85.3" x2="306.59" y2="107" stroke="#34c4ea" stroke-width="0.5"/>
<rect x="306.59" y="85.3" width="2.62" height="26.5" fill="#14e6f0"/>
<rect x="306.59" y="105.8" width="2.62" height="6" fill="#74aaf0"/>
<line x1="309.2" y1="85.3" x2="309.2" y2="111.8" stroke="#34c4ea" stroke-width="0.5"/>
<rect x="309.2" y="85.3" width="2.62" height="34.7" fill="#14e6f0"/>
<rect x="309.2" y="114" width="2.62" height="6" fill="#74aaf0"/>
<line x1="311.82" y1="85.3" x2="311.82" y2="120" stroke="#34c4ea" stroke-width="0.5"/>
<rect x="311.82" y="85.3" width="2.62" height="37.4" fill="#14e6f0"/>
<rect x="311.82" y="116.7" width="2.62" height="6" fill="#74aaf0"/>
<line x1="314.44" y1="85.3" x2="314.44" y2="122.7" stroke="#34c4ea" stroke-width="0.5"/>
<rect x="314.44" y="85.3" width="2.62" height="39.2" fill="#14e6f0"/>
<rect x="314.44" y="118.5" width="2.62" height="6" fill="#74aaf0"/>
<line x1="317.05" y1="85.3" x2="317.05" y2="124.5" stroke="#34c4ea" stroke-width="0.5"/>
<rect x="317.05" y="85.3" width="2.62" height="34.7" fill="#14e6f0"/>
<rect x="317.05" y="114" width="2.62" height="6" fill="#74aaf0"/>
<line x1="319.67" y1="85.3" x2="319.67" y2="120" stroke="#34c4ea" stroke-width="0.5"/>
<rect x="319.67" y="85.3" width="2.62" height="27.4" fill="#14e6f0"/>
<rect x="319.67" y="112" width="2.62" height="0.7" fill="#74aaf0"/>
<line x1="322.29" y1="85.3" x2="322.29" y2="112.7" stroke="#34c4ea" stroke-width="0.5"/>
<rect x="322.29" y="85.3" width="2.62" height="30.2" fill="#14e6f0"/>
<rect x="322.29" y="112" width="2.62" height="3.5" fill="#74aaf0"/>
<line x1="324.9" y1="85.3" x2="324.9" y2="115.5" stroke="#34c4ea" stroke-width="0.5"/>
<rect x="324.9" y="85.3" width="2.62" height="26.5" fill="#14e6f0"/>
<rect x="324.9" y="105.8" width="2.62" height="6" fill="#74aaf0"/>
<line x1="327.52" y1="85.3" x2="327.52" y2="111.8" stroke="#34c4ea" stroke-width="0.5"/>
<rect x="327.52" y="85.3" width="2.62" height="25.7" fill="#14e6f0"/>
<rect x="327.52" y="105" width="2.62" height="6" fill="#74aaf0"/>
<line x1="330.14" y1="85.3" x2="330.14" y2="111" stroke="#34c4ea" stroke-width="0.5"/>
<rect x="330.14" y="85.3" width="2.62" height="21.7" fill="#14e6f0"/>
<rect x="330.14" y="101" width="2.62" height="6" fill="#74aaf0"/>
<line x1="332.76" y1="85.3" x2="332.76" y2="107" stroke="#34c4ea" stroke-width="0.5"/>
<rect x="332.76" y="85.3" width="2.62" height="18.3" fill="#14e6f0"/>
<rect x="332.76" y="97.6" width="2.62" height="6" fill="#74aaf0"/>
<line x1="335.37" y1="85.3" x2="335.37" y2="103.6" stroke="#34c4ea" stroke-width="0.5"/>
<rect x="335.37" y="85.3" width="2.62" height="14.7" fill="#74aaf0"/>
<line x1="337.99" y1="85.3" x2="337.99" y2="100" stroke="#34c4ea" stroke-width="0.5"/>
<rect x="337.99" y="85.3" width="2.62" height="16.5" fill="#74aaf0"/>
<line x1="340.61" y1="85.3" x2="340.61" y2="101.8" stroke="#34c4ea" stroke-width="0.5"/>
<rect x="340.61" y="85.3" width="2.62" height="13" fill="#74aaf0"/>
<line x1="343.22" y1="85.3" x2="343.22" y2="98.3" stroke="#34c4ea" stroke-width="0.5"/>
<rect x="343.22" y="85.3" width="2.62" height="17.4" fill="#14e6f0"/>
<rect x="343.22" y="96.7" width="2.62" height="6" fill="#74aaf0"/>
<line x1="345.84" y1="85.3" x2="345.84" y2="102.7" stroke="#34c4ea" stroke-width="0.5"/>
<rect x="345.84" y="85.3" width="2.62" height="21" fill="#14e6f0"/>
<rect x="345.84" y="100.3" width="2.62" height="6" fill="#74aaf0"/>
<line x1="348.46" y1="85.3" x2="348.46" y2="106.3" stroke="#34c4ea" stroke-width="0.5"/>
<rect x="348.46" y="85.3" width="2.62" height="11.2" fill="#74aaf0"/>
<line x1="351.07" y1="85.3" x2="351.07" y2="96.5" stroke="#34c4ea" stroke-width="0.5"/>
<rect x="351.07" y="85.3" width="2.62" height="13" fill="#74aaf0"/>
<line x1="353.69" y1="85.3" x2="353.69" y2="98.3" stroke="#34c4ea" stroke-width="0.5"/>
<rect x="353.69" y="85.3" width="2.62" height="13" fill="#74aaf0"/>
<line x1="356.31" y1="85.3" x2="356.31" y2="98.3" stroke="#34c4ea" stroke-width="0.5"/>
<rect x="356.31" y="85.3" width="2.62" height="18.3" fill="#14e6f0"/>
<rect x="356.31" y="97.6" width="2.62" height="6" fill="#74aaf0"/>
<line x1="358.93" y1="85.3" x2="358.93" y2="103.6" stroke="#34c4ea" stroke-width="0.5"/>
<rect x="358.93" y="85.3" width="2.62" height="13" fill="#74aaf0"/>
<line x1="361.54" y1="85.3" x2="361.54" y2="98.3" stroke="#34c4ea" stroke-width="0.5"/>
<rect x="361.54" y="85.3" width="2.62" height="11.2" fill="#74aaf0"/>
<line x1="364.16" y1="85.3" x2="364.16" y2="96.5" stroke="#34c4ea" stroke-width="0.5"/>
<rect x="364.16" y="85.3" width="2.62" height="5.9" fill="#74aaf0"/>
<line x1="366.78" y1="85.3" x2="366.78" y2="91.2" stroke="#34c4ea" stroke-width="0.5"/>
<rect x="366.78" y="85.3" width="2.62" height="1.5" fill="#74aaf0"/>
<line x1="369.39" y1="85.3" x2="369.39" y2="86.8" stroke="#34c4ea" stroke-width="0.5"/>
<rect x="369.39" y="83.3" width="2.62" height="2" fill="#74aaf0"/>
<line x1="372.01" y1="83.3" x2="372.01" y2="85.3" stroke="#34c4ea" stroke-width="0.5"/>
<rect x="372.01" y="74.5" width="2.62" height="10.8" fill="#74aaf0"/>
<line x1="374.63" y1="74.5" x2="374.63" y2="85.3" stroke="#34c4ea" stroke-width="0.5"/>
<rect x="374.63" y="81.5" width="2.62" height="3.8" fill="#74aaf0"/>
<line x1="377.24" y1="81.5" x2="377.24" y2="85.3" stroke="#34c4ea" stroke-width="0.5"/>
<rect x="377.24" y="53.3" width="2.62" height="32" fill="#14e6f0"/>
<rect x="377.24" y="53.3" width="2.62" height="6" fill="#74aaf0"/>
<line x1="379.86" y1="53.3" x2="379.86" y2="85.3" stroke="#34c4ea" stroke-width="0.5"/>
<rect x="382.48" y="85.3" width="2.62" height="17.4" fill="#14e6f0"/>
<rect x="382.48" y="96.7" width="2.62" height="6" fill="#74aaf0"/>
<line x1="385.1" y1="85.3" x2="385.1" y2="102.7" stroke="#34c4ea" stroke-width="0.5"/>
<rect x="385.1" y="85.3" width="2.62" height="15.7" fill="#74aaf0"/>
<line x1="387.71" y1="85.3" x2="387.71" y2="101" stroke="#34c4ea" stroke-width="0.5"/>
<rect x="387.71" y="85.3" width="2.62" height="13.9" fill="#74aaf0"/>
<line x1="390.33" y1="85.3" x2="390.33" y2="99.2" stroke="#34c4ea" stroke-width="0.5"/>
<rect x="390.33" y="85.3" width="2.62" height="12.1" fill="#74aaf0"/>
<line x1="392.95" y1="85.3" x2="392.95" y2="97.4" stroke="#34c4ea" stroke-width="0.5"/>
<rect x="392.95" y="85.3" width="2.62" height="32.4" fill="#14e6f0"/>
<rect x="392.95" y="112" width="2.62" height="5.7" fill="#74aaf0"/>
<line x1="395.56" y1="85.3" x2="395.56" y2="117.7" stroke="#34c4ea" stroke-width="0.5"/>
<rect x="395.56" y="85.3" width="2.62" height="28.9" fill="#14e6f0"/>
<rect x="395.56" y="112" width="2.62" height="2.2" fill="#74aaf0"/>
<line x1="398.18" y1="85.3" x2="398.18" y2="114.2" stroke="#34c4ea" stroke-width="0.5"/>
<rect x="398.18" y="85.3" width="2.62" height="28" fill="#14e6f0"/>
<rect x="398.18" y="112" width="2.62" height="1.3" fill="#74aaf0"/>
<line x1="400.8" y1="85.3" x2="400.8" y2="113.3" stroke="#34c4ea" stroke-width="0.5"/>
<rect x="400.8" y="85.3" width="2.62" height="32.4" fill="#14e6f0"/>
<rect x="400.8" y="112" width="2.62" height="5.7" fill="#74aaf0"/>
<line x1="403.41" y1="85.3" x2="403.41" y2="117.7" stroke="#34c4ea" stroke-width="0.5"/>
<rect x="403.41" y="85.3" width="2.62" height="28.9" fill="#14e6f0"/>
<rect x="403.41" y="112" width="2.62" height="2.2" fill="#74aaf0"/>
<line x1="406.03" y1="85.3" x2="406.03" y2="114.2" stroke="#34c4ea" stroke-width="0.5"/>
<rect x="406.03" y="85.3" width="2.62" height="19.2" fill="#14e6f0"/>
<rect x="406.03" y="98.5" width="2.62" height="6" fill="#74aaf0"/>
<line x1="408.65" y1="85.3" x2="408.65" y2="104.5" stroke="#34c4ea" stroke-width="0.5"/>
<rect x="408.65" y="85.3" width="2.62" height="11.2" fill="#74aaf0"/>
<line x1="411.27" y1="85.3" x2="411.27" y2="96.5" stroke="#34c4ea" stroke-width="0.5"/>
<rect x="411.27" y="85.3" width="2.62" height="6.7" fill="#74aaf0"/>
<line x1="413.88" y1="85.3" x2="413.88" y2="92" stroke="#34c4ea" stroke-width="0.5"/>
<rect x="413.88" y="84.2" width="2.62" height="1.1" fill="#74aaf0"/>
<line x1="416.5" y1="84.2" x2="416.5" y2="85.3" stroke="#34c4ea" stroke-width="0.5"/>
<rect x="442" y="69.1" width="2.62" height="16.2" fill="#74aaf0"/>
<line x1="444.62" y1="69.1" x2="444.62" y2="85.3" stroke="#34c4ea" stroke-width="0.5"/>
<rect x="444.62" y="60" width="2.62" height="25.3" fill="#14e6f0"/>
<rect x="444.62" y="60" width="2.62" height="4" fill="#74aaf0"/>
<line x1="447.23" y1="60" x2="447.23" y2="85.3" stroke="#34c4ea" stroke-width="0.5"/>
<rect x="449.85" y="85.3" width="2.62" height="8.1" fill="#74aaf0"/>
<line x1="452.46" y1="85.3" x2="452.46" y2="93.4" stroke="#34c4ea" stroke-width="0.5"/>
<rect x="452.46" y="85.3" width="2.62" height="4.4" fill="#74aaf0"/>
<line x1="455.08" y1="85.3" x2="455.08" y2="89.7" stroke="#34c4ea" stroke-width="0.5"/>
<rect x="455.08" y="85.3" width="2.62" height="5.1" fill="#74aaf0"/>
<line x1="457.69" y1="85.3" x2="457.69" y2="90.4" stroke="#34c4ea" stroke-width="0.5"/>
<rect x="457.69" y="85.3" width="2.62" height="12.5" fill="#74aaf0"/>
<line x1="460.31" y1="85.3" x2="460.31" y2="97.8" stroke="#34c4ea" stroke-width="0.5"/>
<rect x="460.31" y="85.3" width="2.62" height="14" fill="#74aaf0"/>
<line x1="462.92" y1="85.3" x2="462.92" y2="99.3" stroke="#34c4ea" stroke-width="0.5"/>
<rect x="462.92" y="85.3" width="2.62" height="16.9" fill="#74aaf0"/>
<line x1="465.54" y1="85.3" x2="465.54" y2="102.2" stroke="#34c4ea" stroke-width="0.5"/>
<rect x="468.15" y="76.5" width="2.62" height="8.8" fill="#74aaf0"/>
<line x1="470.77" y1="76.5" x2="470.77" y2="85.3" stroke="#34c4ea" stroke-width="0.5"/>
<rect x="470.77" y="83.1" width="2.62" height="2.2" fill="#74aaf0"/>
<line x1="473.38" y1="83.1" x2="473.38" y2="85.3" stroke="#34c4ea" stroke-width="0.5"/>
<rect x="473.38" y="85.3" width="2.62" height="1.5" fill="#74aaf0"/>
<line x1="476" y1="85.3" x2="476" y2="86.8" stroke="#34c4ea" stroke-width="0.5"/>
<rect x="476" y="85.3" width="2.62" height="3.7" fill="#74aaf0"/>
<line x1="478.62" y1="85.3" x2="478.62" y2="89" stroke="#34c4ea" stroke-width="0.5"/>
<rect x="478.62" y="85.3" width="2.62" height="5.9" fill="#74aaf0"/>
<line x1="481.23" y1="85.3" x2="481.23" y2="91.2" stroke="#34c4ea" stroke-width="0.5"/>
<rect x="481.23" y="85.3" width="2.62" height="13.2" fill="#74aaf0"/>
<line x1="483.85" y1="85.3" x2="483.85" y2="98.5" stroke="#34c4ea" stroke-width="0.5"/>
<rect x="483.85" y="85.3" width="2.62" height="31.6" fill="#14e6f0"/>
<rect x="483.85" y="112" width="2.62" height="4.9" fill="#74aaf0"/>
<line x1="486.46" y1="85.3" x2="486.46" y2="116.9" stroke="#34c4ea" stroke-width="0.5"/>
<rect x="486.46" y="85.3" width="2.62" height="26.5" fill="#14e6f0"/>
<rect x="486.46" y="105.8" width="2.62" height="6" fill="#74aaf0"/>
<line x1="489.08" y1="85.3" x2="489.08" y2="111.8" stroke="#34c4ea" stroke-width="0.5"/>
<rect x="489.08" y="85.3" width="2.62" height="19.1" fill="#14e6f0"/>
<rect x="489.08" y="98.4" width="2.62" height="6" fill="#74aaf0"/>
<line x1="491.69" y1="85.3" x2="491.69" y2="104.4" stroke="#34c4ea" stroke-width="0.5"/>
<rect x="491.69" y="85.3" width="2.62" height="13.2" fill="#74aaf0"/>
<line x1="494.31" y1="85.3" x2="494.31" y2="98.5" stroke="#34c4ea" stroke-width="0.5"/>
<rect x="494.31" y="85.3" width="2.62" height="3.2" fill="#74aaf0"/>
<line x1="496.92" y1="85.3" x2="496.92" y2="88.5" stroke="#34c4ea" stroke-width="0.5"/>
<rect x="496.92" y="85.3" width="2.62" height="1.2" fill="#74aaf0"/>
<line x1="499.54" y1="85.3" x2="499.54" y2="86.5" stroke="#34c4ea" stroke-width="0.5"/>
<rect x="499.54" y="84.4" width="2.62" height="0.9" fill="#74aaf0"/>
<line x1="502.15" y1="84.4" x2="502.15" y2="85.3" stroke="#34c4ea" stroke-width="0.5"/>
<rect x="502.15" y="84.4" width="2.62" height="0.9" fill="#74aaf0"/>
<line x1="504.77" y1="84.4" x2="504.77" y2="85.3" stroke="#34c4ea" stroke-width="0.5"/>
<rect x="504.77" y="83" width="2.62" height="2.3" fill="#74aaf0"/>
<line x1="507.38" y1="83" x2="507.38" y2="85.3" stroke="#34c4ea" stroke-width="0.5"/>
<rect x="507.38" y="68" width="2.62" height="17.3" fill="#14e6f0"/>
<rect x="507.38" y="68" width="2.62" height="6" fill="#74aaf0"/>
<line x1="510" y1="68" x2="510" y2="85.3" stroke="#34c4ea" stroke-width="0.5"/>
<rect x="510" y="62.4" width="2.62" height="22.9" fill="#14e6f0"/>
<rect x="510" y="62.4" width="2.62" height="1.6" fill="#74aaf0"/>
<line x1="512.62" y1="62.4" x2="512.62" y2="85.3" stroke="#34c4ea" stroke-width="0.5"/>
<rect x="512.62" y="48" width="2.62" height="37.3" fill="#14e6f0"/>
<rect x="512.62" y="48" width="2.62" height="6" fill="#74aaf0"/>
<line x1="515.23" y1="48" x2="515.23" y2="85.3" stroke="#34c4ea" stroke-width="0.5"/>
<rect x="515.23" y="46" width="2.62" height="39.3" fill="#14e6f0"/>
<rect x="515.23" y="46" width="2.62" height="2" fill="#74aaf0"/>
<line x1="517.85" y1="46" x2="517.85" y2="85.3" stroke="#34c4ea" stroke-width="0.5"/>
<rect x="517.85" y="52.8" width="2.62" height="32.5" fill="#14e6f0"/>
<rect x="517.85" y="52.8" width="2.62" height="6" fill="#74aaf0"/>
<line x1="520.46" y1="52.8" x2="520.46" y2="85.3" stroke="#34c4ea" stroke-width="0.5"/>
<rect x="520.46" y="57" width="2.62" height="28.3" fill="#14e6f0"/>
<rect x="520.46" y="57" width="2.62" height="6" fill="#74aaf0"/>
<line x1="523.08" y1="57" x2="523.08" y2="85.3" stroke="#34c4ea" stroke-width="0.5"/>
<rect x="523.08" y="47.4" width="2.62" height="37.9" fill="#14e6f0"/>
<rect x="523.08" y="47.4" width="2.62" height="0.6" fill="#74aaf0"/>
<line x1="525.69" y1="47.4" x2="525.69" y2="85.3" stroke="#34c4ea" stroke-width="0.5"/>
<rect x="525.69" y="70" width="2.62" height="15.3" fill="#74aaf0"/>
<line x1="528.31" y1="70" x2="528.31" y2="85.3" stroke="#34c4ea" stroke-width="0.5"/>
<rect x="528.31" y="64.5" width="2.62" height="20.8" fill="#14e6f0"/>
<rect x="528.31" y="64.5" width="2.62" height="6" fill="#74aaf0"/>
<line x1="530.92" y1="64.5" x2="530.92" y2="85.3" stroke="#34c4ea" stroke-width="0.5"/>
<rect x="530.92" y="60.4" width="2.62" height="24.9" fill="#14e6f0"/>
<rect x="530.92" y="60.4" width="2.62" height="3.6" fill="#74aaf0"/>
<line x1="533.54" y1="60.4" x2="533.54" y2="85.3" stroke="#34c4ea" stroke-width="0.5"/>
<rect x="533.54" y="63.8" width="2.62" height="21.5" fill="#14e6f0"/>
<rect x="533.54" y="63.8" width="2.62" height="0.2" fill="#74aaf0"/>
<line x1="536.15" y1="63.8" x2="536.15" y2="85.3" stroke="#34c4ea" stroke-width="0.5"/>
<rect x="536.15" y="67.3" width="2.62" height="18" fill="#14e6f0"/>
<rect x="536.15" y="67.3" width="2.62" height="6" fill="#74aaf0"/>
<line x1="538.77" y1="67.3" x2="538.77" y2="85.3" stroke="#34c4ea" stroke-width="0.5"/>
<rect x="538.77" y="75.5" width="2.62" height="9.8" fill="#74aaf0"/>
<line x1="541.38" y1="75.5" x2="541.38" y2="85.3" stroke="#34c4ea" stroke-width="0.5"/>
<rect x="541.38" y="65.9" width="2.62" height="19.4" fill="#14e6f0"/>
<rect x="541.38" y="65.9" width="2.62" height="6" fill="#74aaf0"/>
<line x1="544" y1="65.9" x2="544" y2="85.3" stroke="#34c4ea" stroke-width="0.5"/>
<rect x="27" y="236.3" width="2.63" height="15" fill="#74aaf0"/>
<line x1="29.63" y1="236.3" x2="29.63" y2="251.3" stroke="#34c4ea" stroke-width="0.5"/>
<rect x="34.88" y="251.3" width="2.63" height="7.5" fill="#74aaf0"/>
<line x1="37.51" y1="251.3" x2="37.51" y2="258.8" stroke="#34c4ea" stroke-width="0.5"/>
<rect x="37.51" y="251.3" width="2.63" height="22.2" fill="#14e6f0"/>
<rect x="37.51" y="272" width="2.63" height="1.5" fill="#74aaf0"/>
<line x1="40.14" y1="251.3" x2="40.14" y2="273.5" stroke="#34c4ea" stroke-width="0.5"/>
<rect x="40.14" y="251.3" width="2.63" height="15.4" fill="#74aaf0"/>
<line x1="42.77" y1="251.3" x2="42.77" y2="266.7" stroke="#34c4ea" stroke-width="0.5"/>
<rect x="42.77" y="251.3" width="2.63" height="7.5" fill="#74aaf0"/>
<line x1="45.4" y1="251.3" x2="45.4" y2="258.8" stroke="#34c4ea" stroke-width="0.5"/>
<rect x="48.02" y="235.3" width="2.63" height="16" fill="#74aaf0"/>
<line x1="50.65" y1="235.3" x2="50.65" y2="251.3" stroke="#34c4ea" stroke-width="0.5"/>
<rect x="53.28" y="251.3" width="2.63" height="3.7" fill="#74aaf0"/>
<line x1="55.91" y1="251.3" x2="55.91" y2="255" stroke="#34c4ea" stroke-width="0.5"/>
<rect x="55.91" y="251.3" width="2.63" height="0.7" fill="#74aaf0"/>
<line x1="58.53" y1="251.3" x2="58.53" y2="252" stroke="#34c4ea" stroke-width="0.5"/>
<rect x="58.53" y="244" width="2.63" height="7.3" fill="#74aaf0"/>
<line x1="61.16" y1="244" x2="61.16" y2="251.3" stroke="#34c4ea" stroke-width="0.5"/>
<rect x="61.16" y="241" width="2.63" height="10.3" fill="#74aaf0"/>
<line x1="63.79" y1="241" x2="63.79" y2="251.3" stroke="#34c4ea" stroke-width="0.5"/>
<rect x="63.79" y="225.5" width="2.63" height="25.8" fill="#14e6f0"/>
<rect x="63.79" y="225.5" width="2.63" height="6" fill="#74aaf0"/>
<line x1="66.42" y1="225.5" x2="66.42" y2="251.3" stroke="#34c4ea" stroke-width="0.5"/>
<rect x="66.42" y="210.8" width="2.63" height="40.5" fill="#14e6f0"/>
<rect x="66.42" y="210.8" width="2.63" height="6" fill="#74aaf0"/>
<line x1="69.05" y1="210.8" x2="69.05" y2="251.3" stroke="#34c4ea" stroke-width="0.5"/>
<rect x="69.05" y="225.5" width="2.63" height="25.8" fill="#14e6f0"/>
<rect x="69.05" y="225.5" width="2.63" height="6" fill="#74aaf0"/>
<line x1="71.67" y1="225.5" x2="71.67" y2="251.3" stroke="#34c4ea" stroke-width="0.5"/>
<rect x="71.67" y="229.4" width="2.63" height="21.9" fill="#14e6f0"/>
<rect x="71.67" y="229.4" width="2.63" height="6" fill="#74aaf0"/>
<line x1="74.3" y1="229.4" x2="74.3" y2="251.3" stroke="#34c4ea" stroke-width="0.5"/>
<rect x="74.3" y="243" width="2.63" height="8.3" fill="#74aaf0"/>
<line x1="76.93" y1="243" x2="76.93" y2="251.3" stroke="#34c4ea" stroke-width="0.5"/>
<rect x="76.93" y="247" width="2.63" height="4.3" fill="#74aaf0"/>
<line x1="79.56" y1="247" x2="79.56" y2="251.3" stroke="#34c4ea" stroke-width="0.5"/>
<rect x="79.56" y="243.6" width="2.63" height="7.7" fill="#74aaf0"/>
<line x1="82.19" y1="243.6" x2="82.19" y2="251.3" stroke="#34c4ea" stroke-width="0.5"/>
<rect x="84.81" y="251.3" width="2.63" height="3.2" fill="#74aaf0"/>
<line x1="87.44" y1="251.3" x2="87.44" y2="254.5" stroke="#34c4ea" stroke-width="0.5"/>
<rect x="87.44" y="251.3" width="2.63" height="3.2" fill="#74aaf0"/>
<line x1="90.07" y1="251.3" x2="90.07" y2="254.5" stroke="#34c4ea" stroke-width="0.5"/>
<rect x="90.07" y="251.3" width="2.63" height="3.2" fill="#74aaf0"/>
<line x1="92.7" y1="251.3" x2="92.7" y2="254.5" stroke="#34c4ea" stroke-width="0.5"/>
<rect x="92.7" y="251.3" width="2.63" height="3.2" fill="#74aaf0"/>
<line x1="95.33" y1="251.3" x2="95.33" y2="254.5" stroke="#34c4ea" stroke-width="0.5"/>
<rect x="95.33" y="251.3" width="2.63" height="12.3" fill="#74aaf0"/>
<line x1="97.95" y1="251.3" x2="97.95" y2="263.6" stroke="#34c4ea" stroke-width="0.5"/>
<rect x="97.95" y="251.3" width="2.63" height="9.7" fill="#74aaf0"/>
<line x1="100.58" y1="251.3" x2="100.58" y2="261" stroke="#34c4ea" stroke-width="0.5"/>
<rect x="100.58" y="251.3" width="2.63" height="7.7" fill="#74aaf0"/>
<line x1="103.21" y1="251.3" x2="103.21" y2="259" stroke="#34c4ea" stroke-width="0.5"/>
<rect x="103.21" y="251.3" width="2.63" height="6.7" fill="#74aaf0"/>
<line x1="105.84" y1="251.3" x2="105.84" y2="258" stroke="#34c4ea" stroke-width="0.5"/>
<rect x="105.84" y="251.3" width="2.63" height="8.7" fill="#74aaf0"/>
<line x1="108.47" y1="251.3" x2="108.47" y2="260" stroke="#34c4ea" stroke-width="0.5"/>
<rect x="108.47" y="251.3" width="2.63" height="19.7" fill="#14e6f0"/>
<rect x="108.47" y="265" width="2.63" height="6" fill="#74aaf0"/>
<line x1="111.09" y1="251.3" x2="111.09" y2="271" stroke="#34c4ea" stroke-width="0.5"/>
<rect x="111.09" y="251.3" width="2.63" height="21.4" fill="#14e6f0"/>
<rect x="111.09" y="272" width="2.63" height="0.7" fill="#74aaf0"/>
<line x1="113.72" y1="251.3" x2="113.72" y2="272.7" stroke="#34c4ea" stroke-width="0.5"/>
<rect x="113.72" y="251.3" width="2.63" height="30.5" fill="#14e6f0"/>
<rect x="113.72" y="275.8" width="2.63" height="6" fill="#74aaf0"/>
<line x1="116.35" y1="251.3" x2="116.35" y2="281.8" stroke="#34c4ea" stroke-width="0.5"/>
<rect x="116.35" y="251.3" width="2.63" height="24.2" fill="#14e6f0"/>
<rect x="116.35" y="272" width="2.63" height="3.5" fill="#74aaf0"/>
<line x1="118.98" y1="251.3" x2="118.98" y2="275.5" stroke="#34c4ea" stroke-width="0.5"/>
<rect x="118.98" y="251.3" width="2.63" height="23.2" fill="#14e6f0"/>
<rect x="118.98" y="272" width="2.63" height="2.5" fill="#74aaf0"/>
<line x1="121.6" y1="251.3" x2="121.6" y2="274.5" stroke="#34c4ea" stroke-width="0.5"/>
<rect x="121.6" y="251.3" width="2.63" height="25.1" fill="#14e6f0"/>
<rect x="121.6" y="272" width="2.63" height="4.4" fill="#74aaf0"/>
<line x1="124.23" y1="251.3" x2="124.23" y2="276.4" stroke="#34c4ea" stroke-width="0.5"/>
<rect x="124.23" y="251.3" width="2.63" height="26.7" fill="#14e6f0"/>
<rect x="124.23" y="272" width="2.63" height="6" fill="#74aaf0"/>
<line x1="126.86" y1="251.3" x2="126.86" y2="278" stroke="#34c4ea" stroke-width="0.5"/>
<rect x="126.86" y="251.3" width="2.63" height="27.7" fill="#14e6f0"/>
<rect x="126.86" y="273" width="2.63" height="6" fill="#74aaf0"/>
<line x1="129.49" y1="251.3" x2="129.49" y2="279" stroke="#34c4ea" stroke-width="0.5"/>
<rect x="129.49" y="251.3" width="2.63" height="28.7" fill="#14e6f0"/>
<rect x="129.49" y="274" width="2.63" height="6" fill="#74aaf0"/>
<line x1="132.12" y1="251.3" x2="132.12" y2="280" stroke="#34c4ea" stroke-width="0.5"/>
<rect x="132.12" y="251.3" width="2.63" height="28.7" fill="#14e6f0"/>
<rect x="132.12" y="274" width="2.63" height="6" fill="#74aaf0"/>
<line x1="134.74" y1="251.3" x2="134.74" y2="280" stroke="#34c4ea" stroke-width="0.5"/>
<rect x="134.74" y="251.3" width="2.63" height="45.1" fill="#14e6f0"/>
<rect x="134.74" y="290.4" width="2.63" height="6" fill="#74aaf0"/>
<line x1="137.37" y1="251.3" x2="137.37" y2="296.4" stroke="#34c4ea" stroke-width="0.5"/>
<rect x="137.37" y="251.3" width="2.63" height="40.5" fill="#14e6f0"/>
<rect x="137.37" y="288" width="2.63" height="3.8" fill="#74aaf0"/>
<line x1="140" y1="251.3" x2="140" y2="291.8" stroke="#34c4ea" stroke-width="0.5"/>
<rect x="166.5" y="242.8" width="2.65" height="8.5" fill="#74aaf0"/>
<line x1="169.15" y1="242.8" x2="169.15" y2="251.3" stroke="#34c4ea" stroke-width="0.5"/>
<rect x="169.15" y="176.5" width="2.65" height="74.8" fill="#14e6f0"/>
<rect x="169.15" y="176.5" width="2.65" height="6" fill="#74aaf0"/>
<line x1="171.81" y1="176.5" x2="171.81" y2="251.3" stroke="#34c4ea" stroke-width="0.5"/>
<rect x="171.81" y="251.3" width="2.65" height="20.7" fill="#14e6f0"/>
<rect x="171.81" y="266" width="2.65" height="6" fill="#74aaf0"/>
<line x1="174.46" y1="251.3" x2="174.46" y2="272" stroke="#34c4ea" stroke-width="0.5"/>
<rect x="174.46" y="251.3" width="2.65" height="36.1" fill="#14e6f0"/>
<rect x="174.46" y="281.4" width="2.65" height="6" fill="#74aaf0"/>
<line x1="177.11" y1="251.3" x2="177.11" y2="287.4" stroke="#34c4ea" stroke-width="0.5"/>
<rect x="177.11" y="251.3" width="2.65" height="32.3" fill="#14e6f0"/>
<rect x="177.11" y="277.6" width="2.65" height="6" fill="#74aaf0"/>
<line x1="179.76" y1="251.3" x2="179.76" y2="283.6" stroke="#34c4ea" stroke-width="0.5"/>
<rect x="179.76" y="251.3" width="2.65" height="15.7" fill="#74aaf0"/>
<line x1="182.41" y1="251.3" x2="182.41" y2="267" stroke="#34c4ea" stroke-width="0.5"/>
<rect x="182.41" y="251.3" width="2.65" height="0.7" fill="#74aaf0"/>
<line x1="185.07" y1="251.3" x2="185.07" y2="252" stroke="#34c4ea" stroke-width="0.5"/>
<rect x="185.07" y="239" width="2.65" height="12.3" fill="#74aaf0"/>
<line x1="187.72" y1="239" x2="187.72" y2="251.3" stroke="#34c4ea" stroke-width="0.5"/>
<rect x="187.72" y="232.6" width="2.65" height="18.7" fill="#14e6f0"/>
<rect x="187.72" y="232.6" width="2.65" height="6" fill="#74aaf0"/>
<line x1="190.37" y1="232.6" x2="190.37" y2="251.3" stroke="#34c4ea" stroke-width="0.5"/>
<rect x="190.37" y="228.8" width="2.65" height="22.5" fill="#14e6f0"/>
<rect x="190.37" y="228.8" width="2.65" height="6" fill="#74aaf0"/>
<line x1="193.03" y1="228.8" x2="193.03" y2="251.3" stroke="#34c4ea" stroke-width="0.5"/>
<rect x="193.03" y="236.4" width="2.65" height="14.9" fill="#74aaf0"/>
<line x1="195.68" y1="236.4" x2="195.68" y2="251.3" stroke="#34c4ea" stroke-width="0.5"/>
<rect x="195.68" y="245.7" width="2.65" height="5.6" fill="#74aaf0"/>
<line x1="198.33" y1="245.7" x2="198.33" y2="251.3" stroke="#34c4ea" stroke-width="0.5"/>
<rect x="198.33" y="230" width="2.65" height="21.3" fill="#14e6f0"/>
<rect x="198.33" y="230" width="2.65" height="6" fill="#74aaf0"/>
<line x1="200.98" y1="230" x2="200.98" y2="251.3" stroke="#34c4ea" stroke-width="0.5"/>
<rect x="200.98" y="233" width="2.65" height="18.3" fill="#14e6f0"/>
<rect x="200.98" y="233" width="2.65" height="6" fill="#74aaf0"/>
<line x1="203.64" y1="233" x2="203.64" y2="251.3" stroke="#34c4ea" stroke-width="0.5"/>
<rect x="203.64" y="226" width="2.65" height="25.3" fill="#14e6f0"/>
<rect x="203.64" y="226" width="2.65" height="6" fill="#74aaf0"/>
<line x1="206.29" y1="226" x2="206.29" y2="251.3" stroke="#34c4ea" stroke-width="0.5"/>
<rect x="206.29" y="225" width="2.65" height="26.3" fill="#14e6f0"/>
<rect x="206.29" y="225" width="2.65" height="6" fill="#74aaf0"/>
<line x1="208.94" y1="225" x2="208.94" y2="251.3" stroke="#34c4ea" stroke-width="0.5"/>
<rect x="208.94" y="221" width="2.65" height="30.3" fill="#14e6f0"/>
<rect x="208.94" y="221" width="2.65" height="3" fill="#74aaf0"/>
<line x1="211.59" y1="221" x2="211.59" y2="251.3" stroke="#34c4ea" stroke-width="0.5"/>
<rect x="211.59" y="207.6" width="2.65" height="43.7" fill="#14e6f0"/>
<rect x="211.59" y="207.6" width="2.65" height="0.4" fill="#74aaf0"/>
<line x1="214.25" y1="207.6" x2="214.25" y2="251.3" stroke="#34c4ea" stroke-width="0.5"/>
<rect x="214.25" y="204.5" width="2.65" height="46.8" fill="#14e6f0"/>
<rect x="214.25" y="204.5" width="2.65" height="3.5" fill="#74aaf0"/>
<line x1="216.9" y1="204.5" x2="216.9" y2="251.3" stroke="#34c4ea" stroke-width="0.5"/>
<rect x="216.9" y="175.7" width="2.65" height="75.6" fill="#14e6f0"/>
<rect x="216.9" y="175.7" width="2.65" height="0.3" fill="#74aaf0"/>
<line x1="219.55" y1="175.7" x2="219.55" y2="251.3" stroke="#34c4ea" stroke-width="0.5"/>
<rect x="219.55" y="175.7" width="2.65" height="75.6" fill="#14e6f0"/>
<rect x="219.55" y="175.7" width="2.65" height="0.3" fill="#74aaf0"/>
<line x1="222.2" y1="175.7" x2="222.2" y2="251.3" stroke="#34c4ea" stroke-width="0.5"/>
<rect x="222.2" y="171.6" width="2.65" height="79.7" fill="#14e6f0"/>
<rect x="222.2" y="171.6" width="2.65" height="4.4" fill="#74aaf0"/>
<line x1="224.86" y1="171.6" x2="224.86" y2="251.3" stroke="#34c4ea" stroke-width="0.5"/>
<rect x="224.86" y="167.5" width="2.65" height="83.8" fill="#14e6f0"/>
<rect x="224.86" y="167.5" width="2.65" height="6" fill="#74aaf0"/>
<line x1="227.51" y1="167.5" x2="227.51" y2="251.3" stroke="#34c4ea" stroke-width="0.5"/>
<rect x="227.51" y="162.3" width="2.65" height="89" fill="#14e6f0"/>
<rect x="227.51" y="162.3" width="2.65" height="6" fill="#74aaf0"/>
<line x1="230.16" y1="162.3" x2="230.16" y2="251.3" stroke="#34c4ea" stroke-width="0.5"/>
<rect x="230.16" y="187" width="2.65" height="64.3" fill="#14e6f0"/>
<rect x="230.16" y="187" width="2.65" height="5" fill="#74aaf0"/>
<line x1="232.81" y1="187" x2="232.81" y2="251.3" stroke="#34c4ea" stroke-width="0.5"/>
<rect x="232.81" y="209.7" width="2.65" height="41.6" fill="#14e6f0"/>
<rect x="232.81" y="209.7" width="2.65" height="6" fill="#74aaf0"/>
<line x1="235.47" y1="209.7" x2="235.47" y2="251.3" stroke="#34c4ea" stroke-width="0.5"/>
<rect x="235.47" y="229.2" width="2.65" height="22.1" fill="#14e6f0"/>
<rect x="235.47" y="229.2" width="2.65" height="6" fill="#74aaf0"/>
<line x1="238.12" y1="229.2" x2="238.12" y2="251.3" stroke="#34c4ea" stroke-width="0.5"/>
<rect x="238.12" y="232.3" width="2.65" height="19" fill="#14e6f0"/>
<rect x="238.12" y="232.3" width="2.65" height="6" fill="#74aaf0"/>
<line x1="240.77" y1="232.3" x2="240.77" y2="251.3" stroke="#34c4ea" stroke-width="0.5"/>
<rect x="240.77" y="231.2" width="2.65" height="20.1" fill="#14e6f0"/>
<rect x="240.77" y="231.2" width="2.65" height="6" fill="#74aaf0"/>
<line x1="243.42" y1="231.2" x2="243.42" y2="251.3" stroke="#34c4ea" stroke-width="0.5"/>
<rect x="243.42" y="224.5" width="2.65" height="26.8" fill="#14e6f0"/>
<rect x="243.42" y="224.5" width="2.65" height="6" fill="#74aaf0"/>
<line x1="246.08" y1="224.5" x2="246.08" y2="251.3" stroke="#34c4ea" stroke-width="0.5"/>
<rect x="246.08" y="220" width="2.65" height="31.3" fill="#14e6f0"/>
<rect x="246.08" y="220" width="2.65" height="4" fill="#74aaf0"/>
<line x1="248.73" y1="220" x2="248.73" y2="251.3" stroke="#34c4ea" stroke-width="0.5"/>
<rect x="248.73" y="215.5" width="2.65" height="35.8" fill="#14e6f0"/>
<rect x="248.73" y="215.5" width="2.65" height="6" fill="#74aaf0"/>
<line x1="251.38" y1="215.5" x2="251.38" y2="251.3" stroke="#34c4ea" stroke-width="0.5"/>
<rect x="251.38" y="200.8" width="2.65" height="50.5" fill="#14e6f0"/>
<rect x="251.38" y="200.8" width="2.65" height="6" fill="#74aaf0"/>
<line x1="254.03" y1="200.8" x2="254.03" y2="251.3" stroke="#34c4ea" stroke-width="0.5"/>
<rect x="254.03" y="184" width="2.65" height="67.3" fill="#14e6f0"/>
<rect x="254.03" y="184" width="2.65" height="6" fill="#74aaf0"/>
<line x1="256.69" y1="184" x2="256.69" y2="251.3" stroke="#34c4ea" stroke-width="0.5"/>
<rect x="256.69" y="151.3" width="2.65" height="100" fill="#14e6f0"/>
<rect x="256.69" y="151.3" width="2.65" height="6" fill="#74aaf0"/>
<line x1="259.34" y1="151.3" x2="259.34" y2="251.3" stroke="#34c4ea" stroke-width="0.5"/>
<rect x="259.34" y="164.8" width="2.65" height="86.5" fill="#14e6f0"/>
<rect x="259.34" y="164.8" width="2.65" height="6" fill="#74aaf0"/>
<line x1="261.99" y1="164.8" x2="261.99" y2="251.3" stroke="#34c4ea" stroke-width="0.5"/>
<rect x="261.99" y="167" width="2.65" height="84.3" fill="#14e6f0"/>
<rect x="261.99" y="167" width="2.65" height="6" fill="#74aaf0"/>
<line x1="264.64" y1="167" x2="264.64" y2="251.3" stroke="#34c4ea" stroke-width="0.5"/>
<rect x="264.64" y="167" width="2.65" height="84.3" fill="#14e6f0"/>
<rect x="264.64" y="167" width="2.65" height="6" fill="#74aaf0"/>
<line x1="267.3" y1="167" x2="267.3" y2="251.3" stroke="#34c4ea" stroke-width="0.5"/>
<rect x="267.3" y="161.4" width="2.65" height="89.9" fill="#14e6f0"/>
<rect x="267.3" y="161.4" width="2.65" height="6" fill="#74aaf0"/>
<line x1="269.95" y1="161.4" x2="269.95" y2="251.3" stroke="#34c4ea" stroke-width="0.5"/>
<rect x="269.95" y="162.5" width="2.65" height="88.8" fill="#14e6f0"/>
<rect x="269.95" y="162.5" width="2.65" height="6" fill="#74aaf0"/>
<line x1="272.6" y1="162.5" x2="272.6" y2="251.3" stroke="#34c4ea" stroke-width="0.5"/>
<rect x="303.2" y="249.8" width="2.64" height="14.5" fill="#74aaf0"/>
<line x1="305.84" y1="249.8" x2="305.84" y2="264.3" stroke="#34c4ea" stroke-width="0.5"/>
<rect x="305.84" y="249.8" width="2.64" height="20.2" fill="#14e6f0"/>
<rect x="305.84" y="264" width="2.64" height="6" fill="#74aaf0"/>
<line x1="308.49" y1="249.8" x2="308.49" y2="270" stroke="#34c4ea" stroke-width="0.5"/>
<rect x="308.49" y="249.8" width="2.64" height="31.9" fill="#14e6f0"/>
<rect x="308.49" y="275.7" width="2.64" height="6" fill="#74aaf0"/>
<line x1="311.13" y1="249.8" x2="311.13" y2="281.7" stroke="#34c4ea" stroke-width="0.5"/>
<rect x="311.13" y="249.8" width="2.64" height="29.7" fill="#14e6f0"/>
<rect x="311.13" y="273.5" width="2.64" height="6" fill="#74aaf0"/>
<line x1="313.77" y1="249.8" x2="313.77" y2="279.5" stroke="#34c4ea" stroke-width="0.5"/>
<rect x="313.77" y="249.8" width="2.64" height="25.4" fill="#14e6f0"/>
<rect x="313.77" y="272" width="2.64" height="3.2" fill="#74aaf0"/>
<line x1="316.42" y1="249.8" x2="316.42" y2="275.2" stroke="#34c4ea" stroke-width="0.5"/>
<rect x="316.42" y="249.8" width="2.64" height="13" fill="#74aaf0"/>
<line x1="319.06" y1="249.8" x2="319.06" y2="262.8" stroke="#34c4ea" stroke-width="0.5"/>
<rect x="319.06" y="249.8" width="2.64" height="7.2" fill="#74aaf0"/>
<line x1="321.7" y1="249.8" x2="321.7" y2="257" stroke="#34c4ea" stroke-width="0.5"/>
<rect x="321.7" y="249.8" width="2.64" height="5" fill="#74aaf0"/>
<line x1="324.35" y1="249.8" x2="324.35" y2="254.8" stroke="#34c4ea" stroke-width="0.5"/>
<rect x="324.35" y="249.8" width="2.64" height="5.7" fill="#74aaf0"/>
<line x1="326.99" y1="249.8" x2="326.99" y2="255.5" stroke="#34c4ea" stroke-width="0.5"/>
<rect x="326.99" y="249.8" width="2.64" height="7.9" fill="#74aaf0"/>
<line x1="329.63" y1="249.8" x2="329.63" y2="257.7" stroke="#34c4ea" stroke-width="0.5"/>
<rect x="329.63" y="249.8" width="2.64" height="12.2" fill="#74aaf0"/>
<line x1="332.28" y1="249.8" x2="332.28" y2="262" stroke="#34c4ea" stroke-width="0.5"/>
<rect x="332.28" y="249.8" width="2.64" height="14.5" fill="#74aaf0"/>
<line x1="334.92" y1="249.8" x2="334.92" y2="264.3" stroke="#34c4ea" stroke-width="0.5"/>
<rect x="334.92" y="249.8" width="2.64" height="12.2" fill="#74aaf0"/>
<line x1="337.57" y1="249.8" x2="337.57" y2="262" stroke="#34c4ea" stroke-width="0.5"/>
<rect x="337.57" y="249.8" width="2.64" height="13" fill="#74aaf0"/>
<line x1="340.21" y1="249.8" x2="340.21" y2="262.8" stroke="#34c4ea" stroke-width="0.5"/>
<rect x="340.21" y="249.8" width="2.64" height="14.5" fill="#74aaf0"/>
<line x1="342.85" y1="249.8" x2="342.85" y2="264.3" stroke="#34c4ea" stroke-width="0.5"/>
<rect x="342.85" y="249.8" width="2.64" height="10.2" fill="#74aaf0"/>
<line x1="345.5" y1="249.8" x2="345.5" y2="260" stroke="#34c4ea" stroke-width="0.5"/>
<rect x="345.5" y="249" width="2.64" height="0.8" fill="#74aaf0"/>
<line x1="348.14" y1="249" x2="348.14" y2="249.8" stroke="#34c4ea" stroke-width="0.5"/>
<rect x="348.14" y="246.8" width="2.64" height="3" fill="#74aaf0"/>
<line x1="350.78" y1="246.8" x2="350.78" y2="249.8" stroke="#34c4ea" stroke-width="0.5"/>
<rect x="350.78" y="245.4" width="2.64" height="4.4" fill="#74aaf0"/>
<line x1="353.43" y1="245.4" x2="353.43" y2="249.8" stroke="#34c4ea" stroke-width="0.5"/>
<rect x="353.43" y="241" width="2.64" height="8.8" fill="#74aaf0"/>
<line x1="356.07" y1="241" x2="356.07" y2="249.8" stroke="#34c4ea" stroke-width="0.5"/>
<rect x="356.07" y="235.9" width="2.64" height="13.9" fill="#74aaf0"/>
<line x1="358.71" y1="235.9" x2="358.71" y2="249.8" stroke="#34c4ea" stroke-width="0.5"/>
<rect x="358.71" y="238.8" width="2.64" height="11" fill="#74aaf0"/>
<line x1="361.36" y1="238.8" x2="361.36" y2="249.8" stroke="#34c4ea" stroke-width="0.5"/>
<rect x="361.36" y="234.5" width="2.64" height="15.3" fill="#74aaf0"/>
<line x1="364" y1="234.5" x2="364" y2="249.8" stroke="#34c4ea" stroke-width="0.5"/>
<rect x="364" y="238.8" width="2.64" height="11" fill="#74aaf0"/>
<line x1="366.64" y1="238.8" x2="366.64" y2="249.8" stroke="#34c4ea" stroke-width="0.5"/>
<rect x="366.64" y="239.5" width="2.64" height="10.3" fill="#74aaf0"/>
<line x1="369.29" y1="239.5" x2="369.29" y2="249.8" stroke="#34c4ea" stroke-width="0.5"/>
<rect x="369.29" y="239.5" width="2.64" height="10.3" fill="#74aaf0"/>
<line x1="371.93" y1="239.5" x2="371.93" y2="249.8" stroke="#34c4ea" stroke-width="0.5"/>
<rect x="371.93" y="237.5" width="2.64" height="12.3" fill="#74aaf0"/>
<line x1="374.57" y1="237.5" x2="374.57" y2="249.8" stroke="#34c4ea" stroke-width="0.5"/>
<rect x="374.57" y="227.3" width="2.64" height="22.5" fill="#14e6f0"/>
<rect x="374.57" y="227.3" width="2.64" height="6" fill="#74aaf0"/>
<line x1="377.22" y1="227.3" x2="377.22" y2="249.8" stroke="#34c4ea" stroke-width="0.5"/>
<rect x="377.22" y="225.2" width="2.64" height="24.6" fill="#14e6f0"/>
<rect x="377.22" y="225.2" width="2.64" height="6" fill="#74aaf0"/>
<line x1="379.86" y1="225.2" x2="379.86" y2="249.8" stroke="#34c4ea" stroke-width="0.5"/>
<rect x="379.86" y="221" width="2.64" height="28.8" fill="#14e6f0"/>
<rect x="379.86" y="221" width="2.64" height="3" fill="#74aaf0"/>
<line x1="382.5" y1="221" x2="382.5" y2="249.8" stroke="#34c4ea" stroke-width="0.5"/>
<rect x="382.5" y="218.4" width="2.64" height="31.4" fill="#14e6f0"/>
<rect x="382.5" y="218.4" width="2.64" height="5.6" fill="#74aaf0"/>
<line x1="385.15" y1="218.4" x2="385.15" y2="249.8" stroke="#34c4ea" stroke-width="0.5"/>
<rect x="385.15" y="209.5" width="2.64" height="40.3" fill="#14e6f0"/>
<rect x="385.15" y="209.5" width="2.64" height="6" fill="#74aaf0"/>
<line x1="387.79" y1="209.5" x2="387.79" y2="249.8" stroke="#34c4ea" stroke-width="0.5"/>
<rect x="387.79" y="205.3" width="2.64" height="44.5" fill="#14e6f0"/>
<rect x="387.79" y="205.3" width="2.64" height="2.7" fill="#74aaf0"/>
<line x1="390.43" y1="205.3" x2="390.43" y2="249.8" stroke="#34c4ea" stroke-width="0.5"/>
<rect x="390.43" y="199.2" width="2.64" height="50.6" fill="#14e6f0"/>
<rect x="390.43" y="199.2" width="2.64" height="6" fill="#74aaf0"/>
<line x1="393.08" y1="199.2" x2="393.08" y2="249.8" stroke="#34c4ea" stroke-width="0.5"/>
<rect x="393.08" y="196.4" width="2.64" height="53.4" fill="#14e6f0"/>
<rect x="393.08" y="196.4" width="2.64" height="6" fill="#74aaf0"/>
<line x1="395.72" y1="196.4" x2="395.72" y2="249.8" stroke="#34c4ea" stroke-width="0.5"/>
<rect x="395.72" y="192.3" width="2.64" height="57.5" fill="#14e6f0"/>
<rect x="395.72" y="192.3" width="2.64" height="6" fill="#74aaf0"/>
<line x1="398.37" y1="192.3" x2="398.37" y2="249.8" stroke="#34c4ea" stroke-width="0.5"/>
<rect x="398.37" y="186.3" width="2.64" height="63.5" fill="#14e6f0"/>
<rect x="398.37" y="186.3" width="2.64" height="5.7" fill="#74aaf0"/>
<line x1="401.01" y1="186.3" x2="401.01" y2="249.8" stroke="#34c4ea" stroke-width="0.5"/>
<rect x="401.01" y="176.3" width="2.64" height="73.5" fill="#14e6f0"/>
<rect x="401.01" y="176.3" width="2.64" height="6" fill="#74aaf0"/>
<line x1="403.65" y1="176.3" x2="403.65" y2="249.8" stroke="#34c4ea" stroke-width="0.5"/>
<rect x="403.65" y="174.5" width="2.64" height="75.3" fill="#14e6f0"/>
<rect x="403.65" y="174.5" width="2.64" height="1.5" fill="#74aaf0"/>
<line x1="406.3" y1="174.5" x2="406.3" y2="249.8" stroke="#34c4ea" stroke-width="0.5"/>
<rect x="406.3" y="170.8" width="2.64" height="79" fill="#14e6f0"/>
<rect x="406.3" y="170.8" width="2.64" height="5.2" fill="#74aaf0"/>
<line x1="408.94" y1="170.8" x2="408.94" y2="249.8" stroke="#34c4ea" stroke-width="0.5"/>
<rect x="408.94" y="160.5" width="2.64" height="89.3" fill="#14e6f0"/>
<rect x="408.94" y="160.5" width="2.64" height="6" fill="#74aaf0"/>
<line x1="411.58" y1="160.5" x2="411.58" y2="249.8" stroke="#34c4ea" stroke-width="0.5"/>
<rect x="411.58" y="160.5" width="2.64" height="89.3" fill="#14e6f0"/>
<rect x="411.58" y="160.5" width="2.64" height="6" fill="#74aaf0"/>
<line x1="414.23" y1="160.5" x2="414.23" y2="249.8" stroke="#34c4ea" stroke-width="0.5"/>
<rect x="414.23" y="159.9" width="2.64" height="89.9" fill="#14e6f0"/>
<rect x="414.23" y="159.9" width="2.64" height="0.1" fill="#74aaf0"/>
<line x1="416.87" y1="159.9" x2="416.87" y2="249.8" stroke="#34c4ea" stroke-width="0.5"/>
<rect x="416.87" y="156.9" width="2.64" height="92.9" fill="#14e6f0"/>
<rect x="416.87" y="156.9" width="2.64" height="3.1" fill="#74aaf0"/>
<line x1="419.51" y1="156.9" x2="419.51" y2="249.8" stroke="#34c4ea" stroke-width="0.5"/>
<rect x="419.51" y="151.4" width="2.64" height="98.4" fill="#14e6f0"/>
<rect x="419.51" y="151.4" width="2.64" height="6" fill="#74aaf0"/>
<line x1="422.16" y1="151.4" x2="422.16" y2="249.8" stroke="#34c4ea" stroke-width="0.5"/>
<rect x="422.16" y="144.7" width="2.64" height="105.1" fill="#14e6f0"/>
<rect x="422.16" y="144.7" width="2.64" height="6" fill="#74aaf0"/>
<line x1="424.8" y1="144.7" x2="424.8" y2="249.8" stroke="#34c4ea" stroke-width="0.5"/>
<rect x="447.8" y="193.9" width="2.6" height="55.9" fill="#14e6f0"/>
<rect x="447.8" y="193.9" width="2.6" height="6" fill="#74aaf0"/>
<line x1="450.4" y1="193.9" x2="450.4" y2="249.8" stroke="#34c4ea" stroke-width="0.5"/>
<rect x="450.4" y="200" width="2.6" height="49.8" fill="#14e6f0"/>
<rect x="450.4" y="200" width="2.6" height="6" fill="#74aaf0"/>
<line x1="453" y1="200" x2="453" y2="249.8" stroke="#34c4ea" stroke-width="0.5"/>
<rect x="453" y="217.2" width="2.6" height="32.6" fill="#14e6f0"/>
<rect x="453" y="217.2" width="2.6" height="6" fill="#74aaf0"/>
<line x1="455.6" y1="217.2" x2="455.6" y2="249.8" stroke="#34c4ea" stroke-width="0.5"/>
<rect x="455.6" y="218.6" width="2.6" height="31.2" fill="#14e6f0"/>
<rect x="455.6" y="218.6" width="2.6" height="5.4" fill="#74aaf0"/>
<line x1="458.2" y1="218.6" x2="458.2" y2="249.8" stroke="#34c4ea" stroke-width="0.5"/>
<rect x="458.2" y="219.3" width="2.6" height="30.5" fill="#14e6f0"/>
<rect x="458.2" y="219.3" width="2.6" height="4.7" fill="#74aaf0"/>
<line x1="460.8" y1="219.3" x2="460.8" y2="249.8" stroke="#34c4ea" stroke-width="0.5"/>
<rect x="460.8" y="220.4" width="2.6" height="29.4" fill="#14e6f0"/>
<rect x="460.8" y="220.4" width="2.6" height="3.6" fill="#74aaf0"/>
<line x1="463.4" y1="220.4" x2="463.4" y2="249.8" stroke="#34c4ea" stroke-width="0.5"/>
<rect x="463.4" y="226" width="2.6" height="23.8" fill="#14e6f0"/>
<rect x="463.4" y="226" width="2.6" height="6" fill="#74aaf0"/>
<line x1="466" y1="226" x2="466" y2="249.8" stroke="#34c4ea" stroke-width="0.5"/>
<rect x="466" y="234.4" width="2.6" height="15.4" fill="#74aaf0"/>
<line x1="468.6" y1="234.4" x2="468.6" y2="249.8" stroke="#34c4ea" stroke-width="0.5"/>
<rect x="468.6" y="233.7" width="2.6" height="16.1" fill="#74aaf0"/>
<line x1="471.2" y1="233.7" x2="471.2" y2="249.8" stroke="#34c4ea" stroke-width="0.5"/>
<rect x="471.2" y="233" width="2.6" height="16.8" fill="#74aaf0"/>
<line x1="473.8" y1="233" x2="473.8" y2="249.8" stroke="#34c4ea" stroke-width="0.5"/>
<rect x="473.8" y="231.6" width="2.6" height="18.2" fill="#14e6f0"/>
<rect x="473.8" y="231.6" width="2.6" height="6" fill="#74aaf0"/>
<line x1="476.4" y1="231.6" x2="476.4" y2="249.8" stroke="#34c4ea" stroke-width="0.5"/>
<rect x="476.4" y="229.6" width="2.6" height="20.2" fill="#14e6f0"/>
<rect x="476.4" y="229.6" width="2.6" height="6" fill="#74aaf0"/>
<line x1="479" y1="229.6" x2="479" y2="249.8" stroke="#34c4ea" stroke-width="0.5"/>
<rect x="479" y="227.5" width="2.6" height="22.3" fill="#14e6f0"/>
<rect x="479" y="227.5" width="2.6" height="6" fill="#74aaf0"/>
<line x1="481.6" y1="227.5" x2="481.6" y2="249.8" stroke="#34c4ea" stroke-width="0.5"/>
<rect x="481.6" y="224.1" width="2.6" height="25.7" fill="#14e6f0"/>
<rect x="481.6" y="224.1" width="2.6" height="6" fill="#74aaf0"/>
<line x1="484.2" y1="224.1" x2="484.2" y2="249.8" stroke="#34c4ea" stroke-width="0.5"/>
<rect x="484.2" y="227.5" width="2.6" height="22.3" fill="#14e6f0"/>
<rect x="484.2" y="227.5" width="2.6" height="6" fill="#74aaf0"/>
<line x1="486.8" y1="227.5" x2="486.8" y2="249.8" stroke="#34c4ea" stroke-width="0.5"/>
<rect x="486.8" y="226.8" width="2.6" height="23" fill="#14e6f0"/>
<rect x="486.8" y="226.8" width="2.6" height="6" fill="#74aaf0"/>
<line x1="489.4" y1="226.8" x2="489.4" y2="249.8" stroke="#34c4ea" stroke-width="0.5"/>
<rect x="489.4" y="225.9" width="2.6" height="23.9" fill="#14e6f0"/>
<rect x="489.4" y="225.9" width="2.6" height="6" fill="#74aaf0"/>
<line x1="492" y1="225.9" x2="492" y2="249.8" stroke="#34c4ea" stroke-width="0.5"/>
<rect x="492" y="228.9" width="2.6" height="20.9" fill="#14e6f0"/>
<rect x="492" y="228.9" width="2.6" height="6" fill="#74aaf0"/>
<line x1="494.6" y1="228.9" x2="494.6" y2="249.8" stroke="#34c4ea" stroke-width="0.5"/>
<rect x="494.6" y="224.8" width="2.6" height="25" fill="#14e6f0"/>
<rect x="494.6" y="224.8" width="2.6" height="6" fill="#74aaf0"/>
<line x1="497.2" y1="224.8" x2="497.2" y2="249.8" stroke="#34c4ea" stroke-width="0.5"/>
<rect x="497.2" y="222" width="2.6" height="27.8" fill="#14e6f0"/>
<rect x="497.2" y="222" width="2.6" height="2" fill="#74aaf0"/>
<line x1="499.8" y1="222" x2="499.8" y2="249.8" stroke="#34c4ea" stroke-width="0.5"/>
<rect x="499.8" y="220" width="2.6" height="29.8" fill="#14e6f0"/>
<rect x="499.8" y="220" width="2.6" height="4" fill="#74aaf0"/>
<line x1="502.4" y1="220" x2="502.4" y2="249.8" stroke="#34c4ea" stroke-width="0.5"/>
<rect x="502.4" y="217.9" width="2.6" height="31.9" fill="#14e6f0"/>
<rect x="502.4" y="217.9" width="2.6" height="6" fill="#74aaf0"/>
<line x1="505" y1="217.9" x2="505" y2="249.8" stroke="#34c4ea" stroke-width="0.5"/>
<rect x="505" y="215.9" width="2.6" height="33.9" fill="#14e6f0"/>
<rect x="505" y="215.9" width="2.6" height="6" fill="#74aaf0"/>
<line x1="507.6" y1="215.9" x2="507.6" y2="249.8" stroke="#34c4ea" stroke-width="0.5"/>
<rect x="507.6" y="217.2" width="2.6" height="32.6" fill="#14e6f0"/>
<rect x="507.6" y="217.2" width="2.6" height="6" fill="#74aaf0"/>
<line x1="510.2" y1="217.2" x2="510.2" y2="249.8" stroke="#34c4ea" stroke-width="0.5"/>
<rect x="510.2" y="214.5" width="2.6" height="35.3" fill="#14e6f0"/>
<rect x="510.2" y="214.5" width="2.6" height="6" fill="#74aaf0"/>
<line x1="512.8" y1="214.5" x2="512.8" y2="249.8" stroke="#34c4ea" stroke-width="0.5"/>
<rect x="512.8" y="217.2" width="2.6" height="32.6" fill="#14e6f0"/>
<rect x="512.8" y="217.2" width="2.6" height="6" fill="#74aaf0"/>
<line x1="515.4" y1="217.2" x2="515.4" y2="249.8" stroke="#34c4ea" stroke-width="0.5"/>
<rect x="515.4" y="217.2" width="2.6" height="32.6" fill="#14e6f0"/>
<rect x="515.4" y="217.2" width="2.6" height="6" fill="#74aaf0"/>
<line x1="518" y1="217.2" x2="518" y2="249.8" stroke="#34c4ea" stroke-width="0.5"/>
<rect x="518" y="216.3" width="2.6" height="33.5" fill="#14e6f0"/>
<rect x="518" y="216.3" width="2.6" height="6" fill="#74aaf0"/>
<line x1="520.6" y1="216.3" x2="520.6" y2="249.8" stroke="#34c4ea" stroke-width="0.5"/>
<rect x="520.6" y="218.6" width="2.6" height="31.2" fill="#14e6f0"/>
<rect x="520.6" y="218.6" width="2.6" height="5.4" fill="#74aaf0"/>
<line x1="523.2" y1="218.6" x2="523.2" y2="249.8" stroke="#34c4ea" stroke-width="0.5"/>
<rect x="523.2" y="222.7" width="2.6" height="27.1" fill="#14e6f0"/>
<rect x="523.2" y="222.7" width="2.6" height="1.3" fill="#74aaf0"/>
<line x1="525.8" y1="222.7" x2="525.8" y2="249.8" stroke="#34c4ea" stroke-width="0.5"/>
<rect x="525.8" y="221.4" width="2.6" height="28.4" fill="#14e6f0"/>
<rect x="525.8" y="221.4" width="2.6" height="2.6" fill="#74aaf0"/>
<line x1="528.4" y1="221.4" x2="528.4" y2="249.8" stroke="#34c4ea" stroke-width="0.5"/>
<rect x="528.4" y="220.7" width="2.6" height="29.1" fill="#14e6f0"/>
<rect x="528.4" y="220.7" width="2.6" height="3.3" fill="#74aaf0"/>
<line x1="531" y1="220.7" x2="531" y2="249.8" stroke="#34c4ea" stroke-width="0.5"/>
<rect x="531" y="220" width="2.6" height="29.8" fill="#14e6f0"/>
<rect x="531" y="220" width="2.6" height="4" fill="#74aaf0"/>
<line x1="533.6" y1="220" x2="533.6" y2="249.8" stroke="#34c4ea" stroke-width="0.5"/>
<rect x="533.6" y="224.1" width="2.6" height="25.7" fill="#14e6f0"/>
<rect x="533.6" y="224.1" width="2.6" height="6" fill="#74aaf0"/>
<line x1="536.2" y1="224.1" x2="536.2" y2="249.8" stroke="#34c4ea" stroke-width="0.5"/>
<rect x="536.2" y="223.7" width="2.6" height="26.1" fill="#14e6f0"/>
<rect x="536.2" y="223.7" width="2.6" height="0.3" fill="#74aaf0"/>
<line x1="538.8" y1="223.7" x2="538.8" y2="249.8" stroke="#34c4ea" stroke-width="0.5"/>
<rect x="538.8" y="222.7" width="2.6" height="27.1" fill="#14e6f0"/>
<rect x="538.8" y="222.7" width="2.6" height="1.3" fill="#74aaf0"/>
<line x1="541.4" y1="222.7" x2="541.4" y2="249.8" stroke="#34c4ea" stroke-width="0.5"/>
<rect x="541.4" y="222" width="2.6" height="27.8" fill="#14e6f0"/>
<rect x="541.4" y="222" width="2.6" height="2" fill="#74aaf0"/>
<line x1="544" y1="222" x2="544" y2="249.8" stroke="#34c4ea" stroke-width="0.5"/>
<text transform="translate(40.2,46.5) rotate(-90)" text-anchor="middle" class="t">Rate (m/y)</text>
<defs>
<clipPath id="mclip"><rect x="108.5" y="338.5" width="333" height="167"/></clipPath>
<filter id="hs" x="108" y="338" width="334" height="168" filterUnits="userSpaceOnUse" color-interpolation-filters="sRGB"><feTurbulence type="fractalNoise" baseFrequency="0.075" numOctaves="4" seed="11" result="n"/><feDiffuseLighting in="n" surfaceScale="7" diffuseConstant="1.1" lighting-color="#fff"><feDistantLight azimuth="225" elevation="45"/></feDiffuseLighting><feColorMatrix type="matrix" values="0.095 0.095 0.095 0 0.735  0.095 0.095 0.095 0 0.735  0.095 0.095 0.095 0 0.735  0 0 0 1 0"/></filter>
</defs>
<g shape-rendering="auto" clip-path="url(#mclip)">
<rect x="108.5" y="338.5" width="333" height="167" fill="#fff"/>
<rect x="108.5" y="338.5" width="333" height="167" filter="url(#hs)" opacity="1"/>
<polygon points="124,338 442,338 442,368 434,372.5 397.5,385.3 375,393.1 360.5,397.5 345.9,400.4 324,408.4 305.9,413.5 296,406 281,404 250.5,401 230,395.7 215.5,390 190.7,376 163,362.5 143,353 131,345 124,338" fill="#ffffff"/>
<polygon points="283,404 306,414 306,440 300,505 283,505" fill="#fff" opacity="0.45"/>
<polygon points="300,440 345,436 360,470 380,478 385,506 300,506" fill="#fff" opacity="0.45"/>
<polygon points="405,470 442,440 442,506 395,506" fill="#fff" opacity="0.4"/>
<polygon points="108.5,440 135,435 150,445 140,475 108.5,475" fill="#fff" opacity="0.3"/>
<polygon points="108.5,350 113,346 118,345 122,343 126,341 129,346 123,356 120,362 126,372 132,380 128,395 118,405 108.5,410" fill="#9a9a9a" opacity="0.35"/>
<polygon points="170,395 230,418 285,436 288,462 250,462 210,456 175,445 160,425" fill="#777" opacity="0.2"/>
<polygon points="372,437 395,432 408,440 405,466 385,470 372,462" fill="#999" opacity="0.3"/>
<polygon points="412,378 441,368 441,420 425,418 410,405" fill="#888" opacity="0.45"/>
<path d="M337.5,343 L360.5,397" stroke="#bdbdbd" stroke-width="5" stroke-linecap="round" fill="none"/>
<path d="M337.5,343 L360.5,397" stroke="#d2d2d2" stroke-width="2.4" stroke-linecap="round" fill="none"/>
<path d="M371.3,355 L384,388" stroke="#b4b4b4" stroke-width="3.6" stroke-linecap="round" fill="none"/>
<path d="M371.3,355 L384,388" stroke="#e2e2e2" stroke-width="1.8" stroke-linecap="round" fill="none"/>
<circle cx="371.3" cy="355" r="2.4" fill="#e6e6e6" stroke="#9a9a9a" stroke-width="0.9"/>
<polygon points="136.5,340.8 139.9,343 143.3,345.3 146.7,347.5 150.2,349.8 153.6,351.9 157.1,354.1 160.5,356.3 164,358.5 167.5,360.6 171,362.8 174.7,364.6 178.5,366.2 182.3,367.9 186.2,369.6 190,371.3 193.9,373 197.7,374.7 201.6,376.4 205.4,378.1 209.2,379.9 213,381.7 216.7,383.6 220.5,385.4 224.3,387.1 228.1,388.7 231.8,390.3 235.6,391.9 239.6,393 243.7,393.7 247.7,394.5 251.8,395.3 255.8,396.1 260,396.7 264.1,397.2 268.2,397.7 272.4,398.3 276.5,398.5 280.7,398.7 284.8,398.9 289,399.1 276.9,436.2 272.6,435.7 268.3,435.1 264,434.6 259.7,434.1 255.5,433 251.3,431.8 247.2,430.7 243.2,429 239.4,426.5 235.7,423.9 232,421.4 228.3,418.9 224.6,416.4 220.8,414.3 217,412.1 213.2,409.9 209.4,407.8 205.6,405.9 201.7,404 197.9,402.1 194,400.2 190.2,398.1 186.4,396.1 182.7,394 179,391.8 175.3,389.6 171.6,387.4 167.9,385.3 164.1,383.1 160.4,380.9 156.7,378.6 153,376.3 149.2,374.3 145.4,372.2 141.5,370.1 137.7,368 133.8,366 129.9,364 126,362 122.1,360" fill="#fbe6f0"/>
<polygon points="134.4,343.6 137.9,345.9 141.3,348.1 144.7,350.4 148.2,352.6 151.7,354.9 155.2,357 158.7,359.2 162.2,361.4 165.7,363.6 169.2,365.8 173,367.6 176.8,369.3 180.7,370.9 184.5,372.6 188.4,374.4 192.2,376.1 196.1,377.8 199.9,379.5 203.8,381.2 207.6,383 211.4,384.8 215.2,386.7 218.9,388.6 222.8,390.3 226.6,391.9 230.4,393.5 234.1,395.1 238.2,396.2 242.3,397 246.4,397.8 250.5,398.5 254.6,399.3 258.7,400 262.9,400.5 267,401 271.2,401.6 275.4,401.8 279.5,402 283.7,402.2 287.9,402.4 276.9,436.2 272.6,435.7 268.3,435.1 264,434.6 259.7,434.1 255.5,433 251.3,431.8 247.2,430.7 243.2,429 239.4,426.5 235.7,423.9 232,421.4 228.3,418.9 224.6,416.4 220.8,414.3 217,412.1 213.2,409.9 209.4,407.8 205.6,405.9 201.7,404 197.9,402.1 194,400.2 190.2,398.1 186.4,396.1 182.7,394 179,391.8 175.3,389.6 171.6,387.4 167.9,385.3 164.1,383.1 160.4,380.9 156.7,378.6 153,376.3 149.2,374.3 145.4,372.2 141.5,370.1 137.7,368 133.8,366 129.9,364 126,362 122.1,360" fill="#f6d6e8"/>
<path d="M123.7 360.8L134.3 346.5M126.9 362.4L137.2 348.4M130.1 364.1L140 350.2M133.2 365.7L142.8 352.1M136.4 367.3L145.6 354M139.6 369L148.5 355.8M142.7 370.7L151.4 357.6M145.8 372.4L154.2 359.4M148.9 374.1L157.1 361.2M152.1 375.8L160 363M155.1 377.7L162.9 364.8M158.1 379.5L165.8 366.6M161.1 381.4L168.7 368.5M164.2 383.2L171.8 369.8M167.3 384.9L174.9 371.2M170.3 386.7L178.1 372.5M173.4 388.4L181.3 373.9M176.4 390.2L184.4 375.3M179.4 392L187.6 376.7M182.4 393.8L190.7 378.2M185.4 395.6L193.9 379.6M188.5 397.2L197.1 381M191.6 398.9L200.2 382.3M194.7 400.5L203.4 383.7M197.9 402.1L206.5 385.2M201 403.7L209.6 386.7M204.1 405.2L212.7 388.2M207.3 406.8L215.7 389.8M210.4 408.3L218.8 391.3M213.5 410.1L222 392.7M216.6 411.9L225.1 394M219.7 413.6L228.2 395.3M222.8 415.4L231.3 396.7M225.9 417.2L234.5 397.9M228.9 419.3L237.9 398.6M231.9 421.3L241.3 399.3M235 423.4L244.6 399.9M238 425.5L248 400.6M241 427.6L251.3 401.2M244.1 429.6L254.7 401.9M247.4 430.8L258.1 402.3M250.8 431.7L261.5 402.8M254.2 432.6L264.9 403.2M257.6 433.5L268.3 403.7M261.1 434.3L271.7 404M264.6 434.7L275.2 404.2M268.1 435.1L278.6 404.4M271.6 435.5L282 404.5M275.1 436L285.4 404.7" stroke="#86587f" stroke-width="1.15" fill="none"/>
<polygon points="303.1,408.3 306.4,407.5 309.8,406.7 313.1,405.9 316.4,405.1 319.7,404.3 323,403.4 326.2,402.4 329.5,401.4 332.7,400.3 336,399.3 339.2,398.3 342.4,397.2 345.5,396.1 348.6,395 351.7,393.9 354.9,393.1 358.2,392.3 361.4,391.5 364.7,390.6 368,389.7 371.3,388.9 374.6,388 377.9,387.1 381.1,386.2 384.4,385.3 387.7,384.4 391,383.5 394,382.1 396.9,380.3 399.9,378.5 402.8,376.9 406,375.7 409.2,374.5 412.4,373.3 415.6,372.1 418.8,371 422,370.1 425.3,369.1 428.6,368.2 431.8,367.2 436.1,391.9 432.9,392.9 429.7,394 426.4,395 423.2,396.1 420,397.2 416.8,398.4 413.6,399.6 410.5,400.8 407.3,402 404.3,403.5 401.3,405.2 398.4,406.8 395.3,408.1 392,409 388.7,409.9 385.5,410.9 382.2,411.7 378.9,412.4 375.5,413.1 372.2,413.8 368.9,414.5 365.6,415.2 362.5,416.7 359.5,418.6 356.5,420.6 353.5,422.5 350.5,424.4 347.6,426.4 344.4,427.7 341.1,428.5 337.8,429.3 334.5,430.1 331.2,430.8 327.9,431.6 324.6,432.3 321.3,432.8 317.9,433.3 314.5,433.8 311.2,434.3 307.8,434.8" fill="#fbe6f0"/>
<polygon points="303.7,411.7 307.1,410.9 310.4,410.1 313.7,409.3 317,408.6 320.3,407.8 323.6,406.8 326.8,405.8 330.1,404.8 333.3,403.8 336.6,402.8 339.8,401.7 343,400.7 346.1,399.6 349.2,398.4 352.4,397.3 355.6,396.5 358.8,395.7 362,394.9 365.3,394 368.6,393.2 371.9,392.3 375.2,391.4 378.5,390.6 381.7,389.7 385,388.8 388.3,387.9 391.6,387 394.6,385.5 397.6,383.8 400.5,382 403.5,380.3 406.6,379.1 409.8,377.9 413,376.8 416.2,375.6 419.4,374.5 422.7,373.5 425.9,372.6 429.2,371.6 432.4,370.7 436.1,391.9 432.9,392.9 429.7,394 426.4,395 423.2,396.1 420,397.2 416.8,398.4 413.6,399.6 410.5,400.8 407.3,402 404.3,403.5 401.3,405.2 398.4,406.8 395.3,408.1 392,409 388.7,409.9 385.5,410.9 382.2,411.7 378.9,412.4 375.5,413.1 372.2,413.8 368.9,414.5 365.6,415.2 362.5,416.7 359.5,418.6 356.5,420.6 353.5,422.5 350.5,424.4 347.6,426.4 344.4,427.7 341.1,428.5 337.8,429.3 334.5,430.1 331.2,430.8 327.9,431.6 324.6,432.3 321.3,432.8 317.9,433.3 314.5,433.8 311.2,434.3 307.8,434.8" fill="#f6d6e8"/>
<path d="M309.4 434.6L305.8 413.8M312.6 434.1L308.9 413M315.8 433.6L312.1 412.3M319 433.1L315.2 411.5M322.2 432.6L318.4 410.8M325.4 432.2L321.5 410M328.6 431.5L324.6 409.1M331.7 430.7L327.7 408.1M334.8 430L330.8 407.2M338 429.2L333.9 406.2M341.1 428.5L337 405.2M344.3 427.7L340.1 404.2M347.3 426.5L343.2 403.2M350.1 424.7L346.1 402.2M352.9 422.9L349.1 401.1M355.7 421L352 400.1M358.6 419.2L355.1 399.2M361.5 417.4L358.1 398.4M364.3 415.5L361.2 397.7M367.5 414.8L364.3 396.9M370.6 414.1L367.5 396M373.8 413.4L370.6 395.2M377 412.8L373.7 394.4M380.1 412.1L376.9 393.6M383.3 411.4L380 392.7M386.4 410.6L383.1 391.9M389.5 409.7L386.2 391M392.6 408.9L389.3 390.2M395.8 408L392.5 389.3M398.7 406.6L395.3 387.8M401.5 405.1L398.1 386.1M404.3 403.5L400.9 384.5M407.1 402L403.7 382.8M410.2 400.9L406.8 381.7M413.2 399.8L409.8 380.6M416.2 398.6L412.8 379.4M419.2 397.5L415.9 378.3M422.3 396.4L418.9 377.2M425.4 395.4L422 376.3M428.4 394.4L425.1 375.4M431.5 393.4L428.2 374.5M434.6 392.4L431.3 373.6" stroke="#86587f" stroke-width="1.1" fill="none"/>
<path d="M287,398 L292,420 L296,436 L300,452" stroke="#b0b0b0" stroke-width="4" fill="none" opacity="0.7"/>
<path d="M287,398 L292,420 L296,436 L300,452" stroke="#f0f0f0" stroke-width="2" fill="none"/>
<path d="M290,435.5 L340,433.5 M290,438 L335,436.5" stroke="#707070" stroke-width="0.9" fill="none"/>
<path d="M109.5,349.5 C111,347 113,348.5 114.5,346.5 C116,344.5 117,345 118,343.5 C119.5,341.5 121,343 122.5,341.2 C124,340 125.5,341.5 124.8,343.5 C124.3,345 125.5,346 126.5,345" stroke="#3a3a3a" stroke-width="1.8" fill="none" stroke-linecap="round"/>
<path d="M150,367 C165,374 180,382 195,390 S215,402 232,408 S262,418 282,421" stroke="#5a3050" stroke-width="0.9" fill="none" opacity="0.6"/>
<path d="M108,430 C130,420 150,418 175,428 S215,452 240,462 S270,468 290,468" stroke="#888" stroke-width="4" fill="none" opacity="0.45"/>
<path d="M108,430 C130,420 150,418 175,428 S215,452 240,462 S270,468 290,468" stroke="#f4f4f4" stroke-width="2" fill="none"/>
<path d="M285,488 C320,488 355,484 378,476 S402,455 415,443 S432,432 442,430" stroke="#8a8a8a" stroke-width="4.5" fill="none" opacity="0.5"/>
<path d="M285,488 C320,488 355,484 378,476 S402,455 415,443 S432,432 442,430" stroke="#f6f6f6" stroke-width="2.4" fill="none"/>
<path d="M385,506 C385,490 395,478 415,468 S435,456 442,452" stroke="#8a8a8a" stroke-width="1.2" fill="none"/>
<path d="M394,506 C396,494 405,484 420,476 S436,466 442,464" stroke="#9a9a9a" stroke-width="1" fill="none"/>
<rect x="345" y="423" width="7" height="9" fill="none" stroke="#4a4a4a" stroke-width="0.9"/>
<rect x="353" y="428" width="8" height="8" fill="none" stroke="#4a4a4a" stroke-width="0.9"/>
<rect x="362" y="420" width="9" height="10" fill="none" stroke="#4a4a4a" stroke-width="0.9"/>
<rect x="372" y="416" width="7" height="9" fill="none" stroke="#4a4a4a" stroke-width="0.9"/>
<rect x="358" y="438" width="7" height="7" fill="none" stroke="#4a4a4a" stroke-width="0.9"/>
<rect x="368" y="433" width="9" height="9" fill="none" stroke="#4a4a4a" stroke-width="0.9"/>
<rect x="380" y="414" width="6" height="8" fill="none" stroke="#4a4a4a" stroke-width="0.9"/>
<rect x="318" y="440" width="8" height="6" fill="none" stroke="#4a4a4a" stroke-width="0.9"/>
<rect x="330" y="438" width="7" height="8" fill="none" stroke="#4a4a4a" stroke-width="0.9"/>
<rect x="344" y="444" width="6" height="6" fill="none" stroke="#4a4a4a" stroke-width="0.9"/>
<rect x="425" y="395" width="6" height="7" fill="none" stroke="#4a4a4a" stroke-width="0.9"/>
<rect x="432" y="418" width="7" height="8" fill="none" stroke="#4a4a4a" stroke-width="0.9"/>
<rect x="421" y="447" width="4" height="4" fill="none" stroke="#4a4a4a" stroke-width="0.9"/>
<rect x="425" y="437" width="9" height="6" fill="none" stroke="#4a4a4a" stroke-width="0.9"/>
<circle cx="193.5" cy="414.6" r="2.5" fill="none" stroke="#3a3a3a" stroke-width="1.5"/>
<circle cx="194.3" cy="419.6" r="2.5" fill="none" stroke="#3a3a3a" stroke-width="1.5"/>
<circle cx="183" cy="450" r="2.4" fill="none" stroke="#3a3a3a" stroke-width="1.4"/>
<circle cx="187.5" cy="452.5" r="2" fill="none" stroke="#3a3a3a" stroke-width="1.3"/>
<circle cx="207.6" cy="450.8" r="2.9" fill="none" stroke="#3a3a3a" stroke-width="1.6"/>
<circle cx="219" cy="460.5" r="2" fill="none" stroke="#3a3a3a" stroke-width="1.2"/>
<circle cx="276" cy="444" r="2.6" fill="none" stroke="#3a3a3a" stroke-width="1.6"/>
<circle cx="268" cy="449" r="1.8" fill="none" stroke="#3a3a3a" stroke-width="1.2"/>
<circle cx="113.2" cy="440" r="2" fill="none" stroke="#3a3a3a" stroke-width="1.3"/>
<circle cx="134" cy="452" r="1.8" fill="none" stroke="#3a3a3a" stroke-width="1.1"/>
<circle cx="228" cy="424" r="1.8" fill="none" stroke="#3a3a3a" stroke-width="1.1"/>
<circle cx="234" cy="431" r="2" fill="none" stroke="#3a3a3a" stroke-width="1.2"/>
<circle cx="160" cy="432" r="1.6" fill="none" stroke="#3a3a3a" stroke-width="1"/>
<circle cx="170" cy="447" r="1.8" fill="none" stroke="#3a3a3a" stroke-width="1"/>
<circle cx="245" cy="450" r="2" fill="none" stroke="#3a3a3a" stroke-width="1.1"/>
<circle cx="252" cy="444" r="1.6" fill="none" stroke="#3a3a3a" stroke-width="1"/>
<circle cx="290" cy="446" r="1.8" fill="none" stroke="#3a3a3a" stroke-width="1"/>
<circle cx="198" cy="460" r="1.6" fill="none" stroke="#3a3a3a" stroke-width="1"/>
<circle cx="190.8" cy="432.5" r="1.8" fill="#444"/>
<path d="M222,420 L230,424 L236,430 L234,440 M226,432 L232,436" stroke="#555" stroke-width="1" fill="none"/>
<rect x="119" y="383.5" width="3" height="16.5" fill="#f7b7d6" opacity="0.85"/>
<rect x="123" y="383.5" width="1.5" height="16.5" fill="#6fe8c8" opacity="0.85"/>
<rect x="130" y="383.5" width="6" height="16.5" fill="#f5d2e4" opacity="0.85"/>
<rect x="136" y="383.5" width="1.6" height="16.5" fill="#6fe8c8" opacity="0.85"/>
<rect x="138" y="383.5" width="6" height="16.5" fill="#f6a9cf" opacity="0.85"/>
<rect x="145" y="383.5" width="4" height="16.5" fill="#f5d2e4" opacity="0.85"/>
<rect x="151.8" y="383.5" width="2.8" height="16.5" fill="#f49ac8" opacity="0.85"/>
<rect x="154.6" y="383.5" width="6.5" height="16.5" fill="#8ee9cf" opacity="0.85"/>
<rect x="162" y="383.5" width="8" height="16.5" fill="#f3dbe7" opacity="0.85"/>
<rect x="176" y="383.5" width="1.5" height="16.5" fill="#6fe8c8" opacity="0.85"/>
<rect x="180" y="383.5" width="6" height="16.5" fill="#f3dbe7" opacity="0.85"/>
<rect x="128" y="350" width="35" height="18" fill="#fbe2ef" style="mix-blend-mode:multiply"/>
<rect x="133" y="352" width="1.5" height="16" fill="#f57ab5" style="mix-blend-mode:multiply"/>
<rect x="143.5" y="356" width="1.8" height="12" fill="#5ee6bc" style="mix-blend-mode:multiply"/>
<rect x="160" y="353" width="2" height="14" fill="#f78cc0" style="mix-blend-mode:multiply"/>
<rect x="163" y="350" width="10" height="18" fill="#fde6f2" style="mix-blend-mode:multiply"/>
<rect x="166" y="351" width="2.5" height="16" fill="#aef4ee" style="mix-blend-mode:multiply"/>
<rect x="152" y="345" width="10" height="8" fill="#fdeef5" style="mix-blend-mode:multiply"/>
<rect x="108.5" y="416" width="3.5" height="16" fill="#6ee8c4" opacity="0.85"/>
<rect x="128" y="416" width="4" height="16" fill="#7eeacc" opacity="0.85"/>
<rect x="132" y="416" width="3.6" height="16" fill="#f58cc0" opacity="0.85"/>
<rect x="143.8" y="416" width="3" height="6" fill="#f77ab6" opacity="0.85"/>
<rect x="140" y="425" width="4" height="7" fill="#6ee8c4" opacity="0.85"/>
<rect x="144" y="424" width="10" height="7" fill="#b6f2de" opacity="0.85"/>
<rect x="112" y="431" width="40" height="9.6" fill="#f7b8d6" opacity="0.85"/>
<rect x="114.4" y="440.6" width="37.6" height="7" fill="#5ee6bc" opacity="0.85"/>
<rect x="124.4" y="447.6" width="6" height="9.4" fill="#f78cc0" opacity="0.85"/>
<rect x="154.4" y="445" width="6" height="4" fill="#a6f0dc" opacity="0.85"/>
<rect x="159" y="445" width="2" height="25" fill="#6ee8c4" opacity="0.85"/>
<rect x="113" y="416" width="15" height="15" fill="#f8dbe8" opacity="0.85"/>
<rect x="136" y="416" width="4" height="10" fill="#f8dbe8" opacity="0.85"/>
<rect x="152" y="431" width="14" height="9" fill="#f8d6e6" opacity="0.85"/>
<rect x="130" y="450" width="20" height="20" fill="#f9e4ee" opacity="0.85"/>
<rect x="190" y="448" width="8" height="12" fill="#f5d2e4" opacity="0.85"/>
<rect x="232" y="430.5" width="2.6" height="19.5" fill="#f39bc8" opacity="0.85"/>
<rect x="235.5" y="431" width="8" height="19" fill="#7eeacc" opacity="0.85"/>
<rect x="243.3" y="431" width="2.4" height="19" fill="#f39bc8" opacity="0.85"/>
<rect x="263" y="440" width="3" height="22" fill="#f5b5d5" opacity="0.85"/>
<rect x="266" y="450" width="5.7" height="13" fill="#6fe8c8" opacity="0.85"/>
<rect x="180" y="463" width="100" height="11" fill="#f6c6de" opacity="0.85"/>
<rect x="223.7" y="464.4" width="19.6" height="8.6" fill="#8eeed4" opacity="0.85"/>
<rect x="180" y="463" width="8.7" height="11" fill="#a6f0dc" opacity="0.85"/>
<rect x="207" y="463" width="3.6" height="11" fill="#8eeed4" opacity="0.85"/>
<rect x="285" y="432" width="8" height="18" fill="#f3c6dc" opacity="0.85"/>
<rect x="252" y="456" width="18" height="8" fill="#f7d0e3" opacity="0.85"/>
<rect x="266" y="462" width="10" height="6" fill="#8ee9cf" opacity="0.85"/>
<rect x="224" y="464" width="40" height="8" fill="#f5d2e4" opacity="0.85"/>
</g>
<rect x="108.5" y="338.5" width="333" height="167" fill="none" stroke="#bdbdbd" stroke-width="1"/>
<rect x="112" y="476" width="169" height="25" fill="#fbfbfb"/>
<rect x="100" y="479" width="10" height="10" fill="#c2f6f0" opacity="0.9"/>
<rect x="100" y="491" width="45" height="5.5" fill="#f6b6d6" opacity="0.9"/>
<rect x="145" y="491" width="41" height="4" fill="#f9d8e8" opacity="0.9"/>
<rect x="155" y="489" width="31" height="5.5" fill="#f9d8e8" opacity="0.9"/>
<rect x="179" y="491" width="25" height="12" fill="#bdf3e6" opacity="0.9"/>
<rect x="183" y="481" width="45" height="7" fill="#fbe0ee" opacity="0.9"/>
<rect x="204" y="489" width="76" height="5.5" fill="#f8cde2" opacity="0.9"/>
<rect x="245" y="496" width="17" height="7" fill="#bff4ee" opacity="0.9"/>
<rect x="248" y="460" width="32" height="14" fill="#c4f3e6" opacity="0.9"/>
<rect x="197" y="460" width="48" height="10" fill="#f8d3e5" opacity="0.9"/>
<rect x="222" y="465" width="20" height="7" fill="#a9efd9" opacity="0.9"/>
<rect x="100" y="501" width="45" height="9" fill="#f8cfe3" opacity="0.9"/>
<rect x="100" y="501" width="20" height="3" fill="#c2f6f0" opacity="0.9"/>
<rect x="150" y="501" width="40" height="5" fill="#fbe4ef" opacity="0.9"/>
<rect x="205" y="500" width="40" height="6" fill="#c9f5ee" opacity="0.9"/>
<line x1="112" y1="476" x2="112" y2="501" stroke="#b0b0b0" stroke-width="0.8"/>
<line x1="281.2" y1="476" x2="281.2" y2="501" stroke="#b0b0b0" stroke-width="0.8"/>
<line x1="112" y1="475.6" x2="281" y2="475.6" stroke="#9a9a9a" stroke-width="1"/>
<line x1="112" y1="501" x2="281" y2="501" stroke="#4a4a4a" stroke-width="1.2"/>
<line x1="121.4" y1="483" x2="272.5" y2="483" stroke="#2f4a3a" stroke-width="1.3"/>
<line x1="121.4" y1="479.5" x2="121.4" y2="486.5" stroke="#2f4a3a" stroke-width="1.1"/>
<line x1="140.3" y1="479.5" x2="140.3" y2="486.5" stroke="#2f4a3a" stroke-width="1.1"/>
<line x1="159.2" y1="479.5" x2="159.2" y2="486.5" stroke="#2f4a3a" stroke-width="1.1"/>
<line x1="178.1" y1="479.5" x2="178.1" y2="486.5" stroke="#2f4a3a" stroke-width="1.1"/>
<line x1="196.9" y1="479.5" x2="196.9" y2="486.5" stroke="#2f4a3a" stroke-width="1.1"/>
<line x1="215.8" y1="479.5" x2="215.8" y2="486.5" stroke="#2f4a3a" stroke-width="1.1"/>
<line x1="234.7" y1="479.5" x2="234.7" y2="486.5" stroke="#2f4a3a" stroke-width="1.1"/>
<line x1="253.6" y1="479.5" x2="253.6" y2="486.5" stroke="#2f4a3a" stroke-width="1.1"/>
<line x1="272.5" y1="479.5" x2="272.5" y2="486.5" stroke="#2f4a3a" stroke-width="1.1"/>
<text x="117.4" y="496.4" class="s" style="fill:#c8285a">0 m</text>
<text x="152.4" y="496.4" class="s" style="fill:#3a2a2a">100 m</text>
<text x="189.4" y="496.4" class="s" style="fill:#2a4a3a">200 m</text>
<text x="226.7" y="496.4" class="s" style="fill:#6a2a3a">300 m</text>
<text x="264.4" y="496.4" class="s" style="fill:#7a2a40">400 m</text>
<text x="138.8" y="347" class="t">1</text>
<text x="194.2" y="371.7" class="t">20</text>
<text x="258" y="395.3" class="t">40</text>
<text x="312.5" y="404.5" class="t">60</text>
<text x="383.5" y="382.6" class="t">80</text>
<circle shape-rendering="auto" cx="135.5" cy="342.5" r="1.2" fill="#111"/>
<circle shape-rendering="auto" cx="199.2" cy="374.6" r="1.2" fill="#111"/>
<circle shape-rendering="auto" cx="262.9" cy="400" r="1.2" fill="#111"/>
<circle shape-rendering="auto" cx="318.3" cy="409.6" r="1.2" fill="#111"/>
<circle shape-rendering="auto" cx="386.2" cy="386" r="1.2" fill="#111"/>
<text transform="translate(221.8,362) rotate(-90)" text-anchor="middle" class="t" style="font-size:7px;font-weight:bold">N</text>
<g shape-rendering="auto"><path d="M225.6,361.6 L243.8,355.5 L238.4,362 L244.2,368.2 Z" fill="none" stroke="#111" stroke-width="1.3" stroke-linejoin="miter"/><path d="M225.6,361.6 L238.4,362 L244.2,368.2 Z" fill="#111"/></g>
<line x1="242.2" y1="339.3" x2="355" y2="339.3" stroke="#6236b8" stroke-width="2"/>
<line x1="285.2" y1="340" x2="285.2" y2="350" stroke="#111" stroke-width="1"/>
<path shape-rendering="auto" d="M282.7,349 L287.7,349 L285.2,353.5 Z" fill="#111"/>
<text x="257.3" y="363.2" class="t">Concrete jetty</text>
<text x="312" y="350" class="t" style="fill:#6a3cc0">Canyon head</text>
</svg>
</body></html>
